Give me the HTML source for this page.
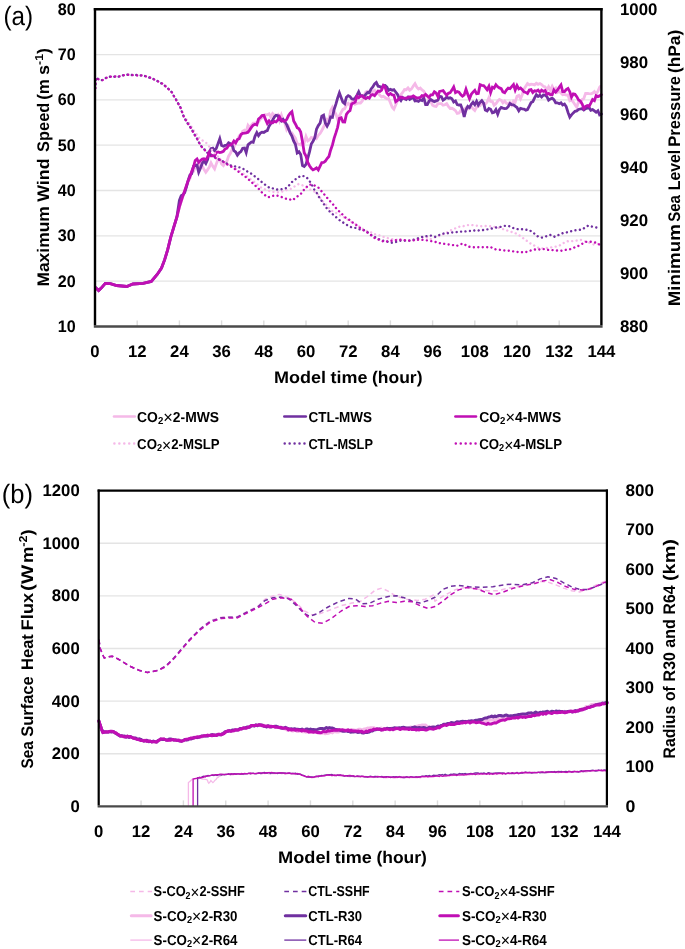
<!DOCTYPE html>
<html><head><meta charset="utf-8"><title>Figure</title>
<style>html,body{margin:0;padding:0;background:#fff;}svg{display:block;will-change:transform;font-family:"Liberation Sans",sans-serif;}</style>
</head><body>
<svg width="685" height="949" viewBox="0 0 685 949" font-family="Liberation Sans, sans-serif" text-rendering="geometricPrecision">
<rect width="685" height="949" fill="#fff"/>
<line x1="95.00" y1="54.60" x2="601.40" y2="54.60" stroke="#e4e4e4" stroke-width="1.3" stroke-linecap="butt"/>
<line x1="95.00" y1="99.90" x2="601.40" y2="99.90" stroke="#e4e4e4" stroke-width="1.3" stroke-linecap="butt"/>
<line x1="95.00" y1="145.20" x2="601.40" y2="145.20" stroke="#e4e4e4" stroke-width="1.3" stroke-linecap="butt"/>
<line x1="95.00" y1="190.50" x2="601.40" y2="190.50" stroke="#e4e4e4" stroke-width="1.3" stroke-linecap="butt"/>
<line x1="95.00" y1="235.80" x2="601.40" y2="235.80" stroke="#e4e4e4" stroke-width="1.3" stroke-linecap="butt"/>
<line x1="95.00" y1="281.10" x2="601.40" y2="281.10" stroke="#e4e4e4" stroke-width="1.3" stroke-linecap="butt"/>
<line x1="95.00" y1="326.40" x2="95.00" y2="320.40" stroke="#dcdcdc" stroke-width="1.4" stroke-linecap="butt"/>
<line x1="137.20" y1="326.40" x2="137.20" y2="320.40" stroke="#dcdcdc" stroke-width="1.4" stroke-linecap="butt"/>
<line x1="179.40" y1="326.40" x2="179.40" y2="320.40" stroke="#dcdcdc" stroke-width="1.4" stroke-linecap="butt"/>
<line x1="221.60" y1="326.40" x2="221.60" y2="320.40" stroke="#dcdcdc" stroke-width="1.4" stroke-linecap="butt"/>
<line x1="263.80" y1="326.40" x2="263.80" y2="320.40" stroke="#dcdcdc" stroke-width="1.4" stroke-linecap="butt"/>
<line x1="306.00" y1="326.40" x2="306.00" y2="320.40" stroke="#dcdcdc" stroke-width="1.4" stroke-linecap="butt"/>
<line x1="348.20" y1="326.40" x2="348.20" y2="320.40" stroke="#dcdcdc" stroke-width="1.4" stroke-linecap="butt"/>
<line x1="390.40" y1="326.40" x2="390.40" y2="320.40" stroke="#dcdcdc" stroke-width="1.4" stroke-linecap="butt"/>
<line x1="432.60" y1="326.40" x2="432.60" y2="320.40" stroke="#dcdcdc" stroke-width="1.4" stroke-linecap="butt"/>
<line x1="474.80" y1="326.40" x2="474.80" y2="320.40" stroke="#dcdcdc" stroke-width="1.4" stroke-linecap="butt"/>
<line x1="517.00" y1="326.40" x2="517.00" y2="320.40" stroke="#dcdcdc" stroke-width="1.4" stroke-linecap="butt"/>
<line x1="559.20" y1="326.40" x2="559.20" y2="320.40" stroke="#dcdcdc" stroke-width="1.4" stroke-linecap="butt"/>
<line x1="601.40" y1="326.40" x2="601.40" y2="320.40" stroke="#dcdcdc" stroke-width="1.4" stroke-linecap="butt"/>
<path d="M95.5,287.5 L98.6,290.6 L101.2,288.1 L105.3,283.4 L110.4,283.6 L116.6,285.5 L126.8,286.5 L132.9,284.0 L143.1,283.4 L151.3,281.4 L157.4,274.2 L161.5,268.1 L164.6,259.9 L167.7,249.7 L170.7,237.4 L173.8,227.2 L176.9,217.0 L179.4,207.3 L181.2,201.6 L182.9,196.5 L184.7,191.4 L186.4,186.3 L188.2,181.4 L189.9,178.6 L191.7,171.8 L193.5,171.3 L195.2,166.9 L197.0,165.1 L198.7,167.1 L200.5,163.9 L202.3,166.0 L204.0,169.4 L205.8,172.2 L207.5,169.9 L209.3,167.2 L211.0,162.8 L212.8,166.3 L214.6,168.9 L216.3,163.9 L218.1,159.2 L219.8,159.1 L221.6,164.0 L223.4,165.7 L225.1,163.1 L226.9,161.2 L228.6,156.1 L230.4,153.4 L232.1,149.5 L233.9,147.4 L235.7,142.4 L237.4,140.3 L239.2,135.9 L240.9,135.8 L242.7,131.3 L244.5,130.2 L246.2,131.6 L248.0,125.3 L249.7,127.6 L251.5,125.2 L253.2,123.2 L255.0,123.2 L256.8,122.3 L258.5,121.9 L260.3,119.1 L262.0,117.6 L263.8,116.4 L265.6,114.7 L267.3,114.8 L269.1,113.8 L270.8,117.0 L272.6,113.6 L274.3,115.2 L276.1,115.8 L277.9,114.7 L279.6,120.5 L281.4,115.1 L283.1,120.1 L284.9,123.3 L286.7,129.5 L288.4,126.8 L290.2,133.1 L291.9,132.9 L293.7,135.9 L295.4,138.2 L297.2,143.4 L299.0,144.4 L300.7,144.8 L302.5,141.8 L304.2,142.9 L306.0,136.4 L307.8,140.9 L309.5,139.8 L311.3,137.5 L313.0,138.3 L314.8,136.7 L316.5,138.4 L318.3,135.3 L320.1,133.5 L321.8,130.5 L323.6,127.0 L325.3,123.6 L327.1,119.1 L328.9,119.6 L330.6,110.7 L332.4,107.4 L334.1,111.2 L335.9,114.1 L337.6,119.4 L339.4,115.8 L341.2,112.3 L342.9,109.4 L344.7,108.6 L346.4,104.9 L348.2,103.3 L350.0,105.2 L351.7,102.8 L353.5,100.1 L355.2,104.1 L357.0,103.4 L358.7,103.0 L360.5,103.0 L362.3,101.0 L364.0,95.6 L365.8,92.1 L367.5,91.2 L369.3,91.7 L371.1,93.3 L372.8,91.3 L374.6,90.2 L376.3,93.4 L378.1,93.1 L379.8,95.3 L381.6,96.9 L383.4,96.3 L385.1,97.5 L386.9,98.8 L388.6,98.5 L390.4,102.8 L392.2,107.2 L393.9,109.1 L395.7,105.0 L397.4,101.0 L399.2,97.2 L400.9,94.5 L402.7,92.4 L404.5,89.5 L406.2,89.8 L408.0,87.9 L409.7,90.2 L411.5,88.9 L413.3,86.0 L415.0,83.6 L416.8,87.2 L418.5,89.1 L420.3,88.1 L422.0,89.9 L423.8,91.2 L425.6,94.9 L427.3,95.4 L429.1,100.6 L430.8,101.3 L432.6,105.2 L434.4,106.2 L436.1,106.5 L437.9,103.7 L439.6,103.6 L441.4,103.7 L443.1,105.2 L444.9,104.8 L446.7,103.7 L448.4,106.3 L450.2,108.5 L451.9,108.3 L453.7,109.3 L455.5,110.6 L457.2,113.4 L459.0,113.0 L460.7,110.5 L462.5,111.8 L464.2,109.4 L466.0,107.7 L467.8,109.0 L469.5,107.2 L471.3,106.4 L473.0,108.8 L474.8,110.5 L476.6,107.2 L478.3,106.1 L480.1,105.6 L481.8,101.8 L483.6,104.2 L485.3,104.2 L487.1,102.1 L488.9,97.8 L490.6,101.4 L492.4,101.5 L494.1,105.2 L495.9,103.7 L497.7,101.1 L499.4,99.5 L501.2,100.3 L502.9,102.9 L504.7,101.1 L506.4,103.4 L508.2,103.9 L510.0,102.4 L511.7,105.1 L513.5,101.1 L515.2,102.2 L517.0,96.2 L518.8,95.4 L520.5,98.9 L522.3,94.5 L524.0,89.2 L525.8,86.2 L527.5,83.5 L529.3,84.9 L531.1,84.1 L532.8,84.3 L534.6,84.9 L536.3,83.2 L538.1,84.3 L539.9,83.5 L541.6,84.6 L543.4,86.4 L545.1,87.0 L546.9,89.9 L548.6,86.8 L550.4,90.4 L552.2,86.4 L553.9,89.5 L555.7,88.1 L557.4,92.4 L559.2,91.4 L561.0,93.0 L562.7,94.8 L564.5,94.3 L566.2,95.1 L568.0,95.0 L569.8,100.7 L571.5,99.9 L573.3,102.1 L575.0,104.8 L576.8,107.3 L578.5,101.5 L580.3,102.6 L582.1,99.5 L583.8,98.5 L585.6,93.4 L587.3,93.5 L589.1,93.7 L590.8,93.8 L592.6,93.2 L594.4,91.6 L596.1,93.8 L597.9,91.3 L599.6,87.3 L600.4,86.3" fill="none" stroke="#f5b9e8" stroke-width="2.8" stroke-linecap="round" stroke-linejoin="miter"/>
<path d="M95.5,287.5 L98.6,290.6 L101.2,288.1 L105.3,283.4 L110.4,283.6 L116.6,285.5 L126.8,286.5 L132.9,284.0 L143.1,283.4 L151.3,281.4 L157.4,274.2 L161.5,268.1 L164.6,259.9 L167.7,249.7 L170.7,237.4 L173.8,227.2 L176.9,217.0 L179.4,200.3 L181.2,195.7 L182.9,194.8 L184.7,192.5 L186.4,187.2 L188.2,180.3 L189.9,175.0 L191.7,173.7 L193.5,166.2 L195.2,165.6 L197.0,165.1 L198.7,172.3 L200.5,168.1 L202.3,163.2 L204.0,161.0 L205.8,163.5 L207.5,159.7 L209.3,152.5 L211.0,148.7 L212.8,148.1 L214.6,150.7 L216.3,148.4 L218.1,143.4 L219.8,138.7 L221.6,145.5 L223.4,146.2 L225.1,145.4 L226.9,145.0 L228.6,142.7 L230.4,143.6 L232.1,145.0 L233.9,150.7 L235.7,152.0 L237.4,155.2 L239.2,152.8 L240.9,151.6 L242.7,148.2 L244.5,148.0 L246.2,152.6 L248.0,144.8 L249.7,143.4 L251.5,142.0 L253.2,142.4 L255.0,136.3 L256.8,132.6 L258.5,135.7 L260.3,133.1 L262.0,132.2 L263.8,132.5 L265.6,131.3 L267.3,130.6 L269.1,126.1 L270.8,123.6 L272.6,120.2 L274.3,117.1 L276.1,115.2 L277.9,115.6 L279.6,119.2 L281.4,121.0 L283.1,119.4 L284.9,121.8 L286.7,124.6 L288.4,128.6 L290.2,132.8 L291.9,136.0 L293.7,141.2 L295.4,144.3 L297.2,153.0 L299.0,151.8 L300.7,154.4 L302.5,165.6 L304.2,166.5 L306.0,164.3 L307.8,158.2 L309.5,151.9 L311.3,144.0 L313.0,141.2 L314.8,137.7 L316.5,129.2 L318.3,125.6 L320.1,123.2 L321.8,116.2 L323.6,115.1 L325.3,123.0 L327.1,126.1 L328.9,122.8 L330.6,116.9 L332.4,117.3 L334.1,109.5 L335.9,104.2 L337.6,98.1 L339.4,92.9 L341.2,97.7 L342.9,102.2 L344.7,103.7 L346.4,97.2 L348.2,95.6 L350.0,96.6 L351.7,98.8 L353.5,99.3 L355.2,98.1 L357.0,95.2 L358.7,91.8 L360.5,95.8 L362.3,95.6 L364.0,96.6 L365.8,94.3 L367.5,92.5 L369.3,92.7 L371.1,88.9 L372.8,86.9 L374.6,83.8 L376.3,82.4 L378.1,86.2 L379.8,86.6 L381.6,87.7 L383.4,85.6 L385.1,85.4 L386.9,87.2 L388.6,90.3 L390.4,89.3 L392.2,90.3 L393.9,89.7 L395.7,92.0 L397.4,94.3 L399.2,98.5 L400.9,100.6 L402.7,97.5 L404.5,98.8 L406.2,99.5 L408.0,97.3 L409.7,99.4 L411.5,98.3 L413.3,97.3 L415.0,100.9 L416.8,100.7 L418.5,101.4 L420.3,100.0 L422.0,100.5 L423.8,97.7 L425.6,104.5 L427.3,104.5 L429.1,101.1 L430.8,99.5 L432.6,100.7 L434.4,101.6 L436.1,100.9 L437.9,100.2 L439.6,96.3 L441.4,96.7 L443.1,100.2 L444.9,99.0 L446.7,97.0 L448.4,98.2 L450.2,97.8 L451.9,98.7 L453.7,102.0 L455.5,100.9 L457.2,104.5 L459.0,105.0 L460.7,105.0 L462.5,109.6 L464.2,116.9 L466.0,109.8 L467.8,106.4 L469.5,107.6 L471.3,104.2 L473.0,102.3 L474.8,104.7 L476.6,101.2 L478.3,105.1 L480.1,102.3 L481.8,100.6 L483.6,103.2 L485.3,110.1 L487.1,110.9 L488.9,108.4 L490.6,109.2 L492.4,112.8 L494.1,112.3 L495.9,109.6 L497.7,114.2 L499.4,109.5 L501.2,107.5 L502.9,108.1 L504.7,108.6 L506.4,108.5 L508.2,106.6 L510.0,103.5 L511.7,104.6 L513.5,104.8 L515.2,106.2 L517.0,107.5 L518.8,110.8 L520.5,108.3 L522.3,108.8 L524.0,109.0 L525.8,110.1 L527.5,109.5 L529.3,106.2 L531.1,102.6 L532.8,101.7 L534.6,97.8 L536.3,94.8 L538.1,96.4 L539.9,95.3 L541.6,97.0 L543.4,95.0 L545.1,95.2 L546.9,96.7 L548.6,100.2 L550.4,98.9 L552.2,98.2 L553.9,99.6 L555.7,102.8 L557.4,102.8 L559.2,103.7 L561.0,102.7 L562.7,105.0 L564.5,104.1 L566.2,106.5 L568.0,112.4 L569.8,117.1 L571.5,114.9 L573.3,112.9 L575.0,111.3 L576.8,110.9 L578.5,109.5 L580.3,109.0 L582.1,108.6 L583.8,110.0 L585.6,108.6 L587.3,108.1 L589.1,107.4 L590.8,110.2 L592.6,109.6 L594.4,110.9 L596.1,112.3 L597.9,110.8 L599.6,114.9 L601.4,114.0" fill="none" stroke="#7030a0" stroke-width="2.8" stroke-linecap="round" stroke-linejoin="miter"/>
<path d="M95.5,287.5 L98.6,290.6 L101.2,288.1 L105.3,283.4 L110.4,283.6 L116.6,285.5 L126.8,286.5 L132.9,284.0 L143.1,283.4 L151.3,281.4 L157.4,274.2 L161.5,268.1 L164.6,259.9 L167.7,249.7 L170.7,237.4 L173.8,227.2 L176.9,217.0 L179.4,206.8 L181.2,201.0 L182.9,195.7 L184.7,190.6 L186.4,185.7 L188.2,180.4 L189.9,176.7 L191.7,171.4 L193.5,166.8 L195.2,160.5 L197.0,158.9 L198.7,162.4 L200.5,160.6 L202.3,159.1 L204.0,158.8 L205.8,159.7 L207.5,157.2 L209.3,152.5 L211.0,155.8 L212.8,155.7 L214.6,156.0 L216.3,152.6 L218.1,152.0 L219.8,152.5 L221.6,152.1 L223.4,151.3 L225.1,149.0 L226.9,148.2 L228.6,145.3 L230.4,145.2 L232.1,143.9 L233.9,141.0 L235.7,142.8 L237.4,139.6 L239.2,138.7 L240.9,134.5 L242.7,133.4 L244.5,133.2 L246.2,132.8 L248.0,132.2 L249.7,129.9 L251.5,127.2 L253.2,125.1 L255.0,124.3 L256.8,125.0 L258.5,119.1 L260.3,117.4 L262.0,115.5 L263.8,115.3 L265.6,119.6 L267.3,123.5 L269.1,120.9 L270.8,122.9 L272.6,122.8 L274.3,121.4 L276.1,122.0 L277.9,120.0 L279.6,116.9 L281.4,120.4 L283.1,121.1 L284.9,121.1 L286.7,119.5 L288.4,115.8 L290.2,113.2 L291.9,111.7 L293.7,120.9 L295.4,124.0 L297.2,127.7 L299.0,128.8 L300.7,132.0 L302.5,141.8 L304.2,152.7 L306.0,156.1 L307.8,162.5 L309.5,165.7 L311.3,168.4 L313.0,169.8 L314.8,169.1 L316.5,167.8 L318.3,169.9 L320.1,166.2 L321.8,162.6 L323.6,162.5 L325.3,161.2 L327.1,158.5 L328.9,156.5 L330.6,150.2 L332.4,145.2 L334.1,138.3 L335.9,132.9 L337.6,127.3 L339.4,118.3 L341.2,117.7 L342.9,122.0 L344.7,122.1 L346.4,114.4 L348.2,111.9 L350.0,110.7 L351.7,104.0 L353.5,103.1 L355.2,102.1 L357.0,96.4 L358.7,97.7 L360.5,96.1 L362.3,96.0 L364.0,97.5 L365.8,98.6 L367.5,97.3 L369.3,98.1 L371.1,95.1 L372.8,94.6 L374.6,95.7 L376.3,93.4 L378.1,91.0 L379.8,91.4 L381.6,90.1 L383.4,85.4 L385.1,87.0 L386.9,93.1 L388.6,95.0 L390.4,93.5 L392.2,94.9 L393.9,95.1 L395.7,101.8 L397.4,100.6 L399.2,98.2 L400.9,97.1 L402.7,97.9 L404.5,98.2 L406.2,98.2 L408.0,97.4 L409.7,96.9 L411.5,96.9 L413.3,95.8 L415.0,97.0 L416.8,98.0 L418.5,97.8 L420.3,97.4 L422.0,95.6 L423.8,96.1 L425.6,94.4 L427.3,96.0 L429.1,97.5 L430.8,94.8 L432.6,94.8 L434.4,91.8 L436.1,92.9 L437.9,96.6 L439.6,91.4 L441.4,91.0 L443.1,90.6 L444.9,93.1 L446.7,95.2 L448.4,93.3 L450.2,92.7 L451.9,90.1 L453.7,86.9 L455.5,92.6 L457.2,91.6 L459.0,92.1 L460.7,94.5 L462.5,96.2 L464.2,95.0 L466.0,89.2 L467.8,94.4 L469.5,98.7 L471.3,94.2 L473.0,92.1 L474.8,90.4 L476.6,93.8 L478.3,93.6 L480.1,84.7 L481.8,85.3 L483.6,85.6 L485.3,87.3 L487.1,89.7 L488.9,86.3 L490.6,92.7 L492.4,87.3 L494.1,88.1 L495.9,84.7 L497.7,86.8 L499.4,87.9 L501.2,88.7 L502.9,92.0 L504.7,92.8 L506.4,90.1 L508.2,88.1 L510.0,88.7 L511.7,86.6 L513.5,84.5 L515.2,90.1 L517.0,85.5 L518.8,88.9 L520.5,88.0 L522.3,89.8 L524.0,91.8 L525.8,92.4 L527.5,93.5 L529.3,90.1 L531.1,89.7 L532.8,92.5 L534.6,90.8 L536.3,91.2 L538.1,90.1 L539.9,92.3 L541.6,90.1 L543.4,91.3 L545.1,90.5 L546.9,94.2 L548.6,93.4 L550.4,94.7 L552.2,94.6 L553.9,90.0 L555.7,92.1 L557.4,90.2 L559.2,87.4 L561.0,85.0 L562.7,91.6 L564.5,91.6 L566.2,89.5 L568.0,88.4 L569.8,91.7 L571.5,97.2 L573.3,93.9 L575.0,94.3 L576.8,96.7 L578.5,99.8 L580.3,101.0 L582.1,103.8 L583.8,108.4 L585.6,106.3 L587.3,105.5 L589.1,106.4 L590.8,103.2 L592.6,99.5 L594.4,100.6 L596.1,95.7 L597.9,96.6 L599.6,95.9 L601.4,94.7" fill="none" stroke="#c00fb4" stroke-width="2.8" stroke-linecap="round" stroke-linejoin="miter"/>
<path d="M95.5,88.0 L95.5,84.7 L95.6,82.0 L96.0,77.6 L99.0,79.5 L102.3,80.2 L104.7,78.6 L107.0,77.5 L109.8,76.8 L112.5,76.2 L115.0,76.7 L117.6,77.0 L122.0,75.5 L126.8,74.7 L129.5,74.5 L132.3,74.6 L135.0,75.0 L138.1,75.1 L141.1,75.7 L144.2,75.8 L147.8,76.7 L151.3,78.0 L154.2,79.6 L157.0,80.8 L160.3,82.7 L163.6,84.3 L165.7,86.0 L167.7,88.3 L169.8,90.3 L171.8,92.3 L173.3,94.9 L174.9,98.0 L176.4,100.1 L177.9,103.1 L180.0,106.4 L181.0,108.5 L182.0,111.5 L183.0,113.5 L184.0,116.0 L186.1,119.0 L187.7,121.0 L189.2,123.4 L190.8,125.7 L192.3,128.0 L193.8,130.6 L195.3,132.3 L196.8,134.6 L198.3,137.0 L200.4,139.0 L203.5,141.1 L206.6,143.1 L208.4,145.4 L210.2,148.0 L212.0,150.0 L213.8,152.2 L215.6,153.9 L217.3,155.8 L219.1,158.2 L220.9,160.0 L223.4,161.8 L226.0,162.6 L228.6,164.5 L231.1,165.8 L233.7,167.6 L236.2,168.9 L238.8,170.1 L241.3,171.8 L243.3,173.6 L245.4,175.2 L247.4,176.4 L249.5,178.4 L251.5,179.9 L253.5,181.3 L255.6,182.9 L257.6,184.7 L259.7,186.3 L261.7,188.1 L264.4,189.1 L267.2,190.3 L269.9,191.2 L272.6,191.8 L275.4,192.2 L278.1,192.2 L280.6,191.9 L283.0,191.3 L285.5,190.5 L287.9,189.6 L290.4,189.1 L293.1,187.2 L295.8,185.8 L298.5,184.0 L303.1,185.5 L305.5,186.9 L307.8,188.4 L310.2,189.6 L313.2,190.9 L316.3,192.7 L317.9,194.5 L319.4,197.1 L320.9,198.9 L322.5,200.9 L324.6,203.3 L326.6,205.2 L328.6,207.7 L330.7,210.1 L333.4,211.8 L336.1,212.9 L338.8,214.2 L341.5,216.2 L344.3,217.4 L347.0,219.3 L349.6,220.7 L352.1,222.4 L354.6,223.5 L357.2,225.0 L359.9,227.0 L362.7,228.7 L365.4,230.5 L368.1,231.3 L370.9,232.3 L373.6,233.6 L376.3,234.9 L379.1,235.3 L381.8,236.6 L384.5,237.1 L387.2,237.9 L389.9,238.7 L392.6,239.2 L395.4,239.6 L398.1,239.7 L400.8,240.0 L403.6,240.4 L406.3,240.7 L408.9,240.7 L411.4,240.0 L413.9,239.9 L416.5,239.7 L419.2,238.7 L422.0,237.7 L424.7,236.6 L427.4,237.7 L430.0,239.4 L432.6,238.2 L435.2,237.2 L437.9,236.6 L440.5,235.5 L443.1,234.3 L445.8,233.2 L448.4,231.7 L451.0,230.2 L454.1,228.7 L457.1,227.8 L460.2,226.3 L463.3,226.2 L466.3,225.3 L469.4,225.0 L472.0,225.0 L474.6,225.6 L477.3,225.8 L479.9,226.3 L482.5,226.1 L485.1,226.0 L487.8,226.0 L490.4,226.3 L493.0,227.0 L495.7,226.9 L498.3,227.6 L501.4,228.7 L504.4,229.5 L507.5,230.7 L510.6,231.5 L513.6,232.9 L516.7,233.6 L519.3,235.4 L522.0,237.2 L524.6,239.4 L527.2,241.1 L529.9,243.1 L532.5,244.7 L535.1,246.0 L537.8,247.6 L540.4,248.6 L543.0,248.3 L545.6,248.1 L548.2,247.8 L550.8,247.5 L553.5,246.9 L556.1,246.6 L558.7,246.0 L561.3,244.5 L564.0,242.7 L566.6,241.5 L569.2,241.0 L571.9,241.2 L574.5,240.7 L577.8,240.5 L581.1,239.9 L584.4,241.3 L587.7,242.0 L591.0,243.5 L594.2,244.7 L597.4,244.1 L600.5,243.4" fill="none" stroke="#f5b9e8" stroke-width="2.4" stroke-linecap="round" stroke-linejoin="round" stroke-dasharray="0.01 4.45" stroke-dashoffset="0.5"/>
<path d="M95.5,88.0 L95.5,84.7 L95.6,82.0 L96.0,77.6 L99.0,79.5 L102.3,80.2 L104.7,78.6 L107.0,77.5 L109.8,76.7 L112.5,76.2 L115.0,76.9 L117.6,77.0 L122.0,75.5 L126.8,74.7 L129.5,74.8 L132.3,75.1 L135.0,75.0 L138.1,75.0 L141.1,75.5 L144.2,75.8 L147.8,77.1 L151.3,78.0 L154.2,79.4 L157.0,80.8 L160.3,82.9 L163.6,84.3 L165.7,86.6 L167.7,88.2 L169.8,90.0 L171.8,92.3 L173.3,95.2 L174.9,97.4 L176.4,100.1 L177.9,103.1 L180.0,106.4 L181.0,109.3 L182.0,112.1 L183.0,114.9 L184.0,117.4 L186.1,120.7 L187.7,123.5 L189.2,125.4 L190.8,127.8 L192.3,130.5 L193.8,132.9 L195.3,136.1 L196.8,138.1 L198.3,141.0 L200.4,145.2 L202.4,147.3 L204.5,149.5 L206.5,152.2 L208.6,153.4 L211.3,154.9 L214.0,157.0 L216.3,157.8 L218.6,159.2 L220.9,160.5 L223.4,161.5 L226.0,162.9 L228.6,164.6 L231.1,165.6 L233.7,165.9 L236.2,166.9 L238.8,167.3 L241.3,167.7 L243.9,169.3 L246.4,170.8 L248.9,172.5 L251.5,173.8 L253.5,175.5 L255.6,176.9 L257.6,178.6 L259.7,180.2 L261.7,182.0 L263.8,183.5 L265.8,185.4 L267.8,186.5 L269.9,188.1 L272.6,188.3 L275.4,189.2 L278.1,189.7 L280.8,189.4 L283.6,188.6 L286.3,188.1 L288.3,186.2 L290.4,183.7 L292.4,181.6 L294.4,179.9 L297.5,178.0 L300.6,175.8 L305.1,176.3 L307.1,178.0 L309.2,180.4 L310.5,182.6 L311.8,184.9 L313.0,187.1 L314.3,189.6 L315.8,191.6 L317.4,193.9 L318.9,196.8 L320.4,198.8 L321.9,201.2 L323.5,203.7 L325.1,205.7 L326.6,208.0 L328.6,210.4 L330.7,212.4 L332.7,214.2 L334.8,216.1 L336.8,217.8 L338.8,219.5 L340.9,221.3 L343.6,222.8 L346.4,224.6 L349.1,226.4 L351.8,227.3 L354.5,227.6 L357.2,228.5 L359.9,229.4 L362.7,229.8 L365.4,230.5 L367.4,232.1 L369.5,233.8 L371.6,235.2 L373.6,236.6 L376.3,237.7 L379.1,239.2 L381.8,240.7 L384.4,240.9 L386.9,241.4 L389.4,242.6 L392.0,242.8 L394.7,242.2 L397.4,241.7 L400.1,240.7 L402.8,240.9 L405.6,240.6 L408.3,240.7 L411.0,240.4 L413.8,239.7 L416.5,238.7 L419.2,238.0 L422.0,237.0 L424.7,236.6 L427.4,235.9 L430.0,235.5 L432.6,235.9 L435.3,236.8 L437.9,235.6 L440.5,234.4 L443.1,233.6 L445.7,233.4 L448.4,233.3 L451.0,232.5 L453.7,232.6 L456.3,232.1 L458.9,231.9 L461.5,231.6 L464.2,231.7 L466.8,231.1 L469.4,231.0 L472.0,231.1 L474.6,230.4 L477.3,230.8 L479.9,230.1 L482.5,230.2 L485.1,229.3 L487.8,229.4 L490.4,228.8 L493.1,228.2 L495.7,227.6 L498.6,227.3 L501.6,226.6 L504.6,225.9 L507.5,225.7 L510.6,226.6 L513.6,228.2 L516.7,228.9 L519.3,229.5 L521.9,229.2 L524.6,229.6 L527.2,229.9 L529.8,230.2 L532.4,232.5 L535.1,233.9 L537.7,236.3 L541.7,237.6 L544.8,236.9 L547.8,235.6 L550.9,234.9 L554.8,236.8 L557.1,235.8 L559.4,234.5 L561.7,233.5 L564.0,232.8 L566.6,232.4 L569.2,231.5 L571.9,231.2 L574.5,230.2 L577.1,230.2 L579.8,229.8 L582.4,229.4 L585.4,227.2 L588.4,225.5 L591.3,226.4 L594.2,227.1 L597.4,227.7 L600.5,227.6" fill="none" stroke="#7030a0" stroke-width="2.4" stroke-linecap="round" stroke-linejoin="round" stroke-dasharray="0.01 4.45" stroke-dashoffset="0.9"/>
<path d="M95.5,88.0 L95.5,85.0 L95.6,82.0 L96.0,77.6 L99.0,79.5 L102.3,80.2 L104.7,78.9 L107.0,77.5 L109.8,77.1 L112.5,76.2 L115.0,76.4 L117.6,77.0 L122.0,75.5 L126.8,74.7 L129.5,74.9 L132.3,75.2 L135.0,75.0 L138.1,75.6 L141.1,75.3 L144.2,75.8 L147.8,77.0 L151.3,78.0 L154.2,79.5 L157.0,80.8 L160.3,82.6 L163.6,84.3 L165.7,86.6 L167.7,88.3 L169.8,90.3 L171.8,92.3 L173.3,95.3 L174.9,97.8 L176.4,100.3 L177.9,103.1 L180.0,106.4 L181.0,109.0 L182.0,111.9 L183.0,114.3 L184.0,117.4 L186.1,120.7 L187.7,123.2 L189.2,125.8 L190.8,128.0 L192.3,130.5 L193.8,133.4 L195.3,136.0 L196.8,138.4 L198.3,141.0 L200.4,145.2 L202.4,147.7 L204.5,149.6 L206.5,152.2 L208.6,153.4 L211.3,154.9 L214.0,157.0 L216.3,158.5 L218.6,159.2 L220.9,160.5 L223.4,161.8 L226.0,163.8 L228.6,165.2 L231.1,166.6 L233.7,168.1 L236.2,170.1 L238.8,171.8 L241.3,173.8 L243.3,175.3 L245.4,176.7 L247.4,178.7 L249.5,180.2 L251.5,182.0 L253.5,184.0 L255.6,185.9 L257.6,187.8 L259.7,189.8 L261.7,192.2 L263.8,194.2 L265.8,195.8 L267.9,197.3 L270.6,196.7 L273.4,195.7 L276.1,195.3 L278.8,196.1 L281.5,197.0 L284.2,198.3 L286.9,198.9 L289.7,199.4 L292.4,200.4 L294.4,198.7 L296.5,197.1 L298.6,195.5 L300.6,194.2 L302.4,192.0 L304.1,189.6 L306.6,187.0 L309.2,184.5 L313.3,184.9 L315.9,186.2 L318.4,187.6 L320.4,189.9 L322.5,192.4 L324.5,194.7 L326.6,197.3 L328.6,199.4 L330.7,201.9 L332.7,204.0 L334.8,206.6 L336.8,209.0 L338.6,210.7 L340.4,212.8 L342.1,214.1 L343.9,216.2 L346.3,218.2 L348.7,219.3 L351.1,221.3 L353.2,222.9 L355.2,224.3 L357.2,225.7 L359.3,227.4 L362.0,229.4 L364.7,230.9 L367.4,232.5 L369.4,233.8 L371.5,235.6 L373.6,237.2 L375.6,238.7 L378.3,239.4 L381.1,240.4 L383.8,241.7 L386.5,241.4 L389.3,241.2 L392.0,240.7 L394.7,240.3 L397.4,240.0 L400.1,239.7 L402.8,240.0 L405.6,240.2 L408.3,240.7 L411.0,240.6 L413.8,240.4 L416.5,239.7 L419.2,239.9 L422.0,239.8 L424.7,240.3 L427.4,240.4 L430.0,240.7 L432.6,241.6 L435.2,241.9 L437.9,242.4 L440.5,243.4 L443.1,243.5 L445.8,244.2 L448.4,244.5 L451.0,244.7 L453.6,245.2 L456.3,246.0 L459.6,244.8 L462.8,243.4 L466.1,245.3 L469.4,246.8 L472.0,247.2 L474.6,247.2 L477.3,247.1 L479.9,247.4 L482.5,247.3 L485.1,247.4 L487.8,247.2 L490.4,246.8 L493.0,248.3 L495.7,249.4 L498.3,249.7 L500.9,249.9 L503.6,250.4 L506.2,250.5 L508.8,250.7 L511.4,251.3 L514.1,251.4 L516.7,252.0 L519.3,251.9 L522.0,252.2 L524.6,252.5 L527.2,251.7 L529.9,250.8 L532.5,249.9 L535.1,249.5 L537.8,249.3 L540.4,249.6 L543.0,249.1 L545.6,249.1 L548.3,249.9 L550.9,249.9 L553.5,250.3 L556.1,250.4 L558.8,250.8 L561.4,250.7 L564.0,250.4 L566.7,249.5 L569.3,249.4 L571.9,248.7 L574.5,247.4 L577.1,246.5 L579.7,245.3 L582.4,243.7 L585.0,242.0 L587.6,241.7 L590.3,241.7 L592.9,242.0 L595.4,242.6 L598.0,244.0 L600.5,244.7" fill="none" stroke="#c00fb4" stroke-width="2.4" stroke-linecap="round" stroke-linejoin="round" stroke-dasharray="0.01 4.45"/>
<line x1="93.80" y1="326.50" x2="602.60" y2="326.50" stroke="#4a4a4a" stroke-width="2.6" stroke-linecap="butt"/>
<line x1="95.00" y1="8.10" x2="95.00" y2="325.20" stroke="#000" stroke-width="2.4" stroke-linecap="butt"/>
<line x1="601.40" y1="8.10" x2="601.40" y2="325.20" stroke="#000" stroke-width="2.4" stroke-linecap="butt"/>
<line x1="93.80" y1="9.30" x2="602.60" y2="9.30" stroke="#000" stroke-width="2.4" stroke-linecap="butt"/>
<text id="t0" transform="translate(3.40,25.30) translate(0.00,0) scale(0.9138,1)" font-size="26.5" font-weight="normal" fill="#000">(a)</text>
<text id="t1" transform="translate(75.60,14.70) translate(-17.90,0) scale(0.9587,1)" font-size="16.8" font-weight="bold" fill="#000">80</text>
<text id="t2" transform="translate(75.60,60.00) translate(-17.90,0) scale(0.9587,1)" font-size="16.8" font-weight="bold" fill="#000">70</text>
<text id="t3" transform="translate(75.60,105.30) translate(-17.90,0) scale(0.9587,1)" font-size="16.8" font-weight="bold" fill="#000">60</text>
<text id="t4" transform="translate(75.60,150.60) translate(-17.90,0) scale(0.9587,1)" font-size="16.8" font-weight="bold" fill="#000">50</text>
<text id="t5" transform="translate(75.60,195.90) translate(-17.90,0) scale(0.9587,1)" font-size="16.8" font-weight="bold" fill="#000">40</text>
<text id="t6" transform="translate(75.60,241.20) translate(-17.90,0) scale(0.9587,1)" font-size="16.8" font-weight="bold" fill="#000">30</text>
<text id="t7" transform="translate(75.60,286.50) translate(-17.90,0) scale(0.9587,1)" font-size="16.8" font-weight="bold" fill="#000">20</text>
<text id="t8" transform="translate(75.60,331.80) translate(-17.90,0) scale(0.9587,1)" font-size="16.8" font-weight="bold" fill="#000">10</text>
<text id="t9" transform="translate(620.00,14.70) translate(0.00,0) scale(1.0015,1)" font-size="16.8" font-weight="bold" fill="#000">1000</text>
<text id="t10" transform="translate(620.00,67.55) translate(0.00,0) scale(1.0036,1)" font-size="16.8" font-weight="bold" fill="#000">980</text>
<text id="t11" transform="translate(620.00,120.40) translate(0.00,0) scale(1.0036,1)" font-size="16.8" font-weight="bold" fill="#000">960</text>
<text id="t12" transform="translate(620.00,173.25) translate(0.00,0) scale(1.0036,1)" font-size="16.8" font-weight="bold" fill="#000">940</text>
<text id="t13" transform="translate(620.00,226.10) translate(0.00,0) scale(1.0036,1)" font-size="16.8" font-weight="bold" fill="#000">920</text>
<text id="t14" transform="translate(620.00,278.95) translate(0.00,0) scale(1.0036,1)" font-size="16.8" font-weight="bold" fill="#000">900</text>
<text id="t15" transform="translate(620.00,331.80) translate(0.00,0) scale(1.0036,1)" font-size="16.8" font-weight="bold" fill="#000">880</text>
<text id="t16" transform="translate(95.00,356.90) translate(-4.65,0) scale(0.9953,1)" font-size="16.8" font-weight="bold" fill="#000">0</text>
<text id="t17" transform="translate(137.20,356.90) translate(-9.30,0) scale(0.9962,1)" font-size="16.8" font-weight="bold" fill="#000">12</text>
<text id="t18" transform="translate(179.40,356.90) translate(-9.30,0) scale(0.9962,1)" font-size="16.8" font-weight="bold" fill="#000">24</text>
<text id="t19" transform="translate(221.60,356.90) translate(-9.30,0) scale(0.9962,1)" font-size="16.8" font-weight="bold" fill="#000">36</text>
<text id="t20" transform="translate(263.80,356.90) translate(-9.30,0) scale(0.9962,1)" font-size="16.8" font-weight="bold" fill="#000">48</text>
<text id="t21" transform="translate(306.00,356.90) translate(-9.30,0) scale(0.9962,1)" font-size="16.8" font-weight="bold" fill="#000">60</text>
<text id="t22" transform="translate(348.20,356.90) translate(-9.30,0) scale(0.9962,1)" font-size="16.8" font-weight="bold" fill="#000">72</text>
<text id="t23" transform="translate(390.40,356.90) translate(-9.30,0) scale(0.9962,1)" font-size="16.8" font-weight="bold" fill="#000">84</text>
<text id="t24" transform="translate(432.60,356.90) translate(-9.30,0) scale(0.9962,1)" font-size="16.8" font-weight="bold" fill="#000">96</text>
<text id="t25" transform="translate(474.80,356.90) translate(-13.95,0) scale(0.9964,1)" font-size="16.8" font-weight="bold" fill="#000">108</text>
<text id="t26" transform="translate(517.00,356.90) translate(-13.95,0) scale(0.9964,1)" font-size="16.8" font-weight="bold" fill="#000">120</text>
<text id="t27" transform="translate(559.20,356.90) translate(-13.95,0) scale(0.9964,1)" font-size="16.8" font-weight="bold" fill="#000">132</text>
<text id="t28" transform="translate(601.40,356.90) translate(-13.95,0) scale(0.9964,1)" font-size="16.8" font-weight="bold" fill="#000">144</text>
<text id="t29" transform="translate(273.90,383.40) translate(0.00,0) scale(1.0725,1)" font-size="16.8" font-weight="bold" fill="#000">Model</text>
<text id="t30" transform="translate(330.50,383.40) translate(0.00,0) scale(1.0691,1)" font-size="16.8" font-weight="bold" fill="#000">time</text>
<text id="t31" transform="translate(372.00,383.40) translate(0.00,0) scale(1.0419,1)" font-size="16.8" font-weight="bold" fill="#000">(hour)</text>
<text id="t32" transform="translate(49.30,286.60) rotate(-90) translate(0.00,0) scale(1.0387,1)" font-size="16.8" font-weight="bold" fill="#000">Maximum</text>
<text id="t33" transform="translate(49.30,201.80) rotate(-90) translate(0.00,0) scale(1.0597,1)" font-size="16.8" font-weight="bold" fill="#000">Wind</text>
<text id="t34" transform="translate(49.30,151.90) rotate(-90) translate(0.00,0) scale(0.9767,1)" font-size="16.8" font-weight="bold" fill="#000">Speed</text>
<text id="t35" transform="translate(49.30,99.80) rotate(-90) translate(0.00,0) scale(1.0090,1)" font-size="16.8" font-weight="bold" fill="#000">(m</text>
<text id="t36" transform="translate(49.30,74.90) rotate(-90) translate(0.00,0) scale(1.0726,1)" font-size="16.8" font-weight="bold" fill="#000">s<tspan font-size="11.5" dy="-6">-1</tspan><tspan dy="6">)</tspan></text>
<text id="t37" transform="translate(679.60,306.30) rotate(-90) translate(0.00,0) scale(1.1146,1)" font-size="16.8" font-weight="bold" fill="#000">Minimum</text>
<text id="t38" transform="translate(679.60,221.80) rotate(-90) translate(0.00,0) scale(0.8975,1)" font-size="16.8" font-weight="bold" fill="#000">Sea</text>
<text id="t39" transform="translate(679.60,190.20) rotate(-90) translate(0.00,0) scale(0.9389,1)" font-size="16.8" font-weight="bold" fill="#000">Level</text>
<text id="t40" transform="translate(679.60,146.70) rotate(-90) translate(0.00,0) scale(0.9813,1)" font-size="16.8" font-weight="bold" fill="#000">Pressure</text>
<text id="t41" transform="translate(679.60,72.90) rotate(-90) translate(0.00,0) scale(1.0273,1)" font-size="16.8" font-weight="bold" fill="#000">(hPa)</text>
<line x1="114.00" y1="416.50" x2="134.80" y2="416.50" stroke="#f5b9e8" stroke-width="2.6" stroke-linecap="round"/>
<line x1="284.30" y1="416.50" x2="305.80" y2="416.50" stroke="#7030a0" stroke-width="2.6" stroke-linecap="round"/>
<line x1="455.40" y1="416.50" x2="476.00" y2="416.50" stroke="#c00fb4" stroke-width="2.6" stroke-linecap="round"/>
<line x1="114.40" y1="443.40" x2="135.00" y2="443.40" stroke="#f5b9e8" stroke-width="2.5" stroke-linecap="round" stroke-dasharray="0.01 4.93"/>
<line x1="284.70" y1="443.40" x2="305.00" y2="443.40" stroke="#7030a0" stroke-width="2.5" stroke-linecap="round" stroke-dasharray="0.01 4.93"/>
<line x1="455.80" y1="443.40" x2="476.00" y2="443.40" stroke="#c00fb4" stroke-width="2.5" stroke-linecap="round" stroke-dasharray="0.01 4.93"/>
<text id="t42" transform="translate(137.10,421.60) translate(0.00,0) scale(0.9640,1)" font-size="14.4" font-weight="bold" fill="#000">CO<tspan font-size="10" dy="2.2">2</tspan><tspan dy="-0.5" font-weight="normal" font-size="17">×</tspan><tspan dy="-1.7">2-MWS</tspan></text>
<text id="t43" transform="translate(137.10,448.80) translate(0.00,0) scale(0.9191,1)" font-size="14.4" font-weight="bold" fill="#000">CO<tspan font-size="10" dy="2.2">2</tspan><tspan dy="-0.5" font-weight="normal" font-size="17">×</tspan><tspan dy="-1.7">2-MSLP</tspan></text>
<text id="t44" transform="translate(308.40,421.60) translate(0.00,0) scale(0.9376,1)" font-size="14.4" font-weight="bold" fill="#000">CTL-MWS</text>
<text id="t45" transform="translate(308.40,448.80) translate(0.00,0) scale(0.8866,1)" font-size="14.4" font-weight="bold" fill="#000">CTL-MSLP</text>
<text id="t46" transform="translate(479.20,421.60) translate(0.00,0) scale(0.9640,1)" font-size="14.4" font-weight="bold" fill="#000">CO<tspan font-size="10" dy="2.2">2</tspan><tspan dy="-0.5" font-weight="normal" font-size="17">×</tspan><tspan dy="-1.7">4-MWS</tspan></text>
<text id="t47" transform="translate(479.20,448.80) translate(0.00,0) scale(0.9213,1)" font-size="14.4" font-weight="bold" fill="#000">CO<tspan font-size="10" dy="2.2">2</tspan><tspan dy="-0.5" font-weight="normal" font-size="17">×</tspan><tspan dy="-1.7">4-MSLP</tspan></text>
<line x1="98.70" y1="543.23" x2="606.90" y2="543.23" stroke="#e4e4e4" stroke-width="1.3" stroke-linecap="butt"/>
<line x1="98.70" y1="595.87" x2="606.90" y2="595.87" stroke="#e4e4e4" stroke-width="1.3" stroke-linecap="butt"/>
<line x1="98.70" y1="648.50" x2="606.90" y2="648.50" stroke="#e4e4e4" stroke-width="1.3" stroke-linecap="butt"/>
<line x1="98.70" y1="701.13" x2="606.90" y2="701.13" stroke="#e4e4e4" stroke-width="1.3" stroke-linecap="butt"/>
<line x1="98.70" y1="753.77" x2="606.90" y2="753.77" stroke="#e4e4e4" stroke-width="1.3" stroke-linecap="butt"/>
<line x1="98.70" y1="806.40" x2="98.70" y2="800.40" stroke="#dcdcdc" stroke-width="1.4" stroke-linecap="butt"/>
<line x1="141.05" y1="806.40" x2="141.05" y2="800.40" stroke="#dcdcdc" stroke-width="1.4" stroke-linecap="butt"/>
<line x1="183.40" y1="806.40" x2="183.40" y2="800.40" stroke="#dcdcdc" stroke-width="1.4" stroke-linecap="butt"/>
<line x1="225.75" y1="806.40" x2="225.75" y2="800.40" stroke="#dcdcdc" stroke-width="1.4" stroke-linecap="butt"/>
<line x1="268.10" y1="806.40" x2="268.10" y2="800.40" stroke="#dcdcdc" stroke-width="1.4" stroke-linecap="butt"/>
<line x1="310.45" y1="806.40" x2="310.45" y2="800.40" stroke="#dcdcdc" stroke-width="1.4" stroke-linecap="butt"/>
<line x1="352.80" y1="806.40" x2="352.80" y2="800.40" stroke="#dcdcdc" stroke-width="1.4" stroke-linecap="butt"/>
<line x1="395.15" y1="806.40" x2="395.15" y2="800.40" stroke="#dcdcdc" stroke-width="1.4" stroke-linecap="butt"/>
<line x1="437.50" y1="806.40" x2="437.50" y2="800.40" stroke="#dcdcdc" stroke-width="1.4" stroke-linecap="butt"/>
<line x1="479.85" y1="806.40" x2="479.85" y2="800.40" stroke="#dcdcdc" stroke-width="1.4" stroke-linecap="butt"/>
<line x1="522.20" y1="806.40" x2="522.20" y2="800.40" stroke="#dcdcdc" stroke-width="1.4" stroke-linecap="butt"/>
<line x1="564.55" y1="806.40" x2="564.55" y2="800.40" stroke="#dcdcdc" stroke-width="1.4" stroke-linecap="butt"/>
<line x1="606.90" y1="806.40" x2="606.90" y2="800.40" stroke="#dcdcdc" stroke-width="1.4" stroke-linecap="butt"/>
<path d="M98.9,639.6 L100.3,648.8 L104.2,658.0 L108.0,657.0 L112.1,656.2 L118.6,659.3 L129.2,665.9 L139.7,670.6 L147.5,672.5 L158.1,670.4 L165.9,665.9 L173.8,658.0 L181.7,648.8 L189.6,639.6 L200.1,628.5 L210.6,620.6 L221.1,617.2 L229.0,616.7 L236.9,616.7 L247.4,611.4 L257.9,606.2 L265.0,599.2 L272.9,596.0 L279.5,594.4 L288.6,597.8 L296.5,603.1 L304.4,611.0 L312.3,614.9 L320.2,613.6 L330.7,609.7 L341.2,605.7 L351.7,603.1 L359.6,601.8 L367.5,596.5 L375.4,590.0 L381.9,588.1 L388.5,591.3 L396.4,596.5 L406.9,599.2 L417.4,600.5 L425.3,599.2 L433.2,595.2 L435.0,601.2 L445.5,594.7 L456.0,589.4 L466.5,587.3 L477.0,588.9 L487.5,590.7 L498.1,590.7 L508.6,588.1 L519.1,586.3 L529.6,584.2 L540.1,581.5 L548.0,582.1 L555.9,584.9 L563.7,588.1 L571.6,590.7 L579.5,592.0 L587.4,589.4 L595.3,585.5 L607.0,580.2" fill="none" stroke="#f5b9e8" stroke-width="1.5" stroke-linecap="butt" stroke-linejoin="round" stroke-dasharray="4.7 3.3"/>
<path d="M98.9,639.6 L100.3,648.8 L104.2,658.0 L108.0,657.0 L112.1,656.2 L118.6,659.3 L129.2,665.9 L139.7,670.6 L147.5,672.5 L158.1,670.4 L165.9,665.9 L173.8,658.0 L181.7,648.8 L189.6,639.6 L200.1,629.1 L210.6,621.2 L221.1,617.8 L229.0,617.3 L236.9,617.3 L247.4,612.0 L257.9,606.8 L265.0,600.5 L272.9,597.8 L280.8,597.1 L288.6,598.6 L296.5,605.7 L304.4,613.6 L309.7,616.2 L317.5,613.6 L328.1,607.0 L338.6,601.8 L349.1,598.4 L355.6,599.2 L362.2,603.9 L370.1,603.1 L378.0,599.2 L388.5,596.5 L396.4,595.7 L404.3,597.8 L412.1,601.3 L420.0,603.1 L427.9,600.5 L435.0,597.3 L442.9,589.4 L450.8,586.3 L458.6,585.5 L469.2,586.8 L479.7,587.3 L492.8,586.8 L503.3,584.9 L511.2,584.2 L521.7,584.9 L532.2,582.8 L540.1,578.9 L548.0,576.8 L555.9,578.4 L563.7,582.8 L571.6,586.8 L579.5,589.4 L587.4,589.4 L595.3,586.8 L607.0,582.1" fill="none" stroke="#7030a0" stroke-width="1.5" stroke-linecap="butt" stroke-linejoin="round" stroke-dasharray="4.7 3.3"/>
<path d="M98.9,639.6 L100.3,648.8 L104.2,658.0 L108.0,657.0 L112.1,656.2 L118.6,659.3 L129.2,665.9 L139.7,670.6 L147.5,672.5 L158.1,670.4 L165.9,666.7 L173.8,658.8 L181.7,649.6 L189.6,640.4 L200.1,629.9 L210.6,622.0 L221.1,618.6 L229.0,618.1 L236.9,618.1 L247.4,612.8 L257.9,607.6 L265.0,603.9 L272.9,599.2 L280.8,597.8 L291.3,599.2 L299.2,607.0 L307.0,616.2 L314.9,622.3 L322.8,623.3 L330.7,618.9 L341.2,611.0 L349.1,606.5 L357.0,605.7 L364.8,606.5 L372.7,605.7 L380.6,603.1 L388.5,601.3 L396.4,602.6 L404.3,601.3 L412.1,601.8 L420.0,605.7 L427.9,608.4 L435.0,606.5 L442.9,601.2 L450.8,594.7 L458.6,589.9 L466.5,587.6 L477.0,588.9 L484.9,592.0 L494.1,594.7 L503.3,592.0 L513.8,588.1 L524.3,585.5 L534.8,583.6 L542.7,581.0 L550.6,579.7 L558.5,582.8 L566.4,586.8 L574.3,589.4 L584.8,590.2 L592.6,588.1 L600.5,584.2 L607.1,581.5" fill="none" stroke="#c00fb4" stroke-width="1.5" stroke-linecap="butt" stroke-linejoin="round" stroke-dasharray="4.7 3.3"/>
<path d="M98.9,721.0 L99.4,722.5 L99.8,723.9 L100.3,725.3 L100.8,726.8 L101.3,728.3 L101.8,730.3 L102.4,731.1 L102.9,732.6 L104.6,732.4 L106.4,732.3 L108.1,732.0 L109.9,731.4 L111.6,731.7 L113.4,731.5 L114.7,732.6 L116.0,733.7 L117.4,733.6 L118.7,734.8 L120.0,736.0 L121.5,735.6 L123.0,736.8 L124.4,736.8 L125.9,736.0 L127.4,737.5 L128.9,737.6 L130.3,737.4 L131.8,737.3 L133.3,737.9 L134.8,737.7 L136.3,737.9 L137.8,739.1 L139.3,738.9 L140.8,739.5 L142.3,740.4 L143.9,740.2 L145.5,740.1 L147.0,740.8 L148.6,741.0 L150.2,741.2 L151.8,741.9 L153.4,741.6 L155.1,742.0 L156.7,742.0 L158.0,741.0 L159.4,740.3 L160.7,739.1 L162.4,739.3 L164.2,739.3 L165.9,739.9 L167.6,740.5 L169.2,740.3 L170.8,740.0 L172.5,739.4 L174.0,740.0 L175.6,739.7 L177.1,739.9 L178.6,740.3 L180.2,740.3 L181.7,741.2 L183.3,741.1 L184.9,740.0 L186.4,740.1 L188.0,739.0 L189.6,738.6 L191.1,739.0 L192.6,738.6 L194.1,737.1 L195.6,737.2 L197.1,737.9 L198.6,737.0 L200.1,736.8 L201.6,737.2 L203.1,736.2 L204.6,735.5 L206.1,736.1 L207.6,736.0 L209.1,735.1 L210.6,735.2 L212.1,734.6 L213.6,734.8 L215.1,735.6 L216.6,735.3 L218.1,734.3 L219.6,734.4 L221.1,734.7 L222.4,733.3 L223.8,732.5 L225.1,732.7 L226.4,731.5 L227.9,730.8 L229.4,731.1 L230.9,730.7 L232.4,730.2 L233.9,730.7 L235.4,729.6 L236.9,729.9 L238.5,729.7 L240.1,728.6 L241.6,728.7 L243.2,728.1 L244.8,728.1 L246.4,727.3 L248.0,727.7 L249.5,727.0 L251.1,725.7 L252.7,725.5 L254.3,725.9 L255.8,724.9 L257.4,725.0 L258.9,725.5 L260.5,724.9 L262.0,725.5 L263.5,725.1 L265.0,726.0 L266.5,726.9 L267.9,725.9 L269.4,726.2 L270.8,727.0 L272.3,726.6 L273.7,726.7 L275.2,726.6 L276.6,726.8 L278.1,727.5 L279.6,727.9 L281.0,727.8 L282.5,728.6 L284.0,728.7 L285.4,729.1 L286.9,730.1 L288.4,729.8 L289.8,730.3 L291.3,730.5 L292.8,731.1 L294.2,730.3 L295.7,730.3 L297.1,731.5 L298.6,731.5 L300.0,730.8 L301.5,730.8 L302.9,731.7 L304.4,731.5 L305.9,732.3 L307.3,731.4 L308.8,732.6 L310.2,732.6 L311.7,732.4 L313.1,732.3 L314.6,732.0 L316.0,732.0 L317.5,732.8 L319.0,733.5 L320.5,732.6 L322.0,733.3 L323.6,732.8 L325.1,733.7 L326.6,733.4 L328.1,733.4 L329.5,732.8 L331.0,732.4 L332.4,732.9 L333.8,731.7 L335.2,731.7 L336.7,731.9 L338.1,732.0 L339.5,731.5 L340.9,730.7 L342.4,731.3 L343.8,730.5 L345.3,730.0 L346.7,729.7 L348.2,730.0 L349.7,730.2 L351.1,729.6 L352.6,729.7 L354.1,729.9 L355.5,730.2 L357.0,730.0 L358.5,729.2 L360.0,729.3 L361.5,729.7 L363.0,729.6 L364.5,728.9 L366.0,728.6 L367.5,728.1 L369.1,728.3 L370.7,727.8 L372.2,727.7 L373.8,727.7 L375.4,728.5 L376.9,729.1 L378.3,728.8 L379.8,729.2 L381.2,728.0 L382.7,728.9 L384.1,728.7 L385.6,729.1 L387.0,728.5 L388.5,728.8 L390.0,729.4 L391.4,728.1 L392.9,728.7 L394.3,728.9 L395.8,729.1 L397.2,728.8 L398.7,728.7 L400.1,728.8 L401.6,728.3 L403.1,728.7 L404.5,727.7 L406.0,728.0 L407.5,728.1 L408.9,727.8 L410.4,727.0 L411.9,727.3 L413.3,727.2 L414.8,726.5 L416.4,726.3 L417.9,726.0 L419.5,725.4 L421.0,725.3 L422.6,724.9 L424.0,725.3 L425.4,724.9 L426.7,726.0 L428.1,726.7 L429.5,726.9 L430.9,727.0 L432.2,726.8 L433.6,727.5 L435.0,727.5 L436.5,727.2 L437.9,726.6 L439.4,726.8 L440.8,725.4 L442.3,725.9 L443.7,724.5 L445.2,724.9 L446.6,724.4 L448.1,724.0 L449.6,723.4 L451.0,723.8 L452.5,723.3 L454.0,723.3 L455.4,723.5 L456.9,722.3 L458.4,721.8 L459.8,721.9 L461.3,722.0 L462.8,722.1 L464.2,721.4 L465.7,721.2 L467.1,722.1 L468.6,721.7 L470.0,721.3 L471.5,721.8 L472.9,720.9 L474.4,721.0 L475.9,721.2 L477.3,720.5 L478.8,720.8 L480.2,721.3 L481.7,721.4 L483.1,721.3 L484.6,720.6 L486.0,720.8 L487.5,720.7 L489.3,720.2 L491.0,719.7 L492.8,720.0 L494.3,719.6 L495.8,719.8 L497.3,719.4 L498.8,718.9 L500.3,718.8 L501.8,717.5 L503.3,717.5 L504.8,716.9 L506.3,717.1 L507.8,716.8 L509.3,716.5 L510.8,716.7 L512.3,716.8 L513.8,716.5 L515.3,716.3 L516.7,715.9 L518.2,716.5 L519.7,716.5 L521.1,715.6 L522.6,714.9 L524.1,714.7 L525.5,715.7 L527.0,715.0 L528.5,714.2 L529.9,714.9 L531.4,714.5 L532.8,713.9 L534.3,714.4 L535.7,713.1 L537.2,713.1 L538.6,713.3 L540.1,713.2 L541.6,712.4 L543.0,713.4 L544.5,712.4 L545.9,712.2 L547.4,711.9 L548.8,712.6 L550.3,712.2 L551.7,712.3 L553.2,712.0 L554.7,712.2 L556.1,712.4 L557.6,712.6 L559.1,712.3 L560.5,711.6 L562.0,712.0 L563.5,711.6 L564.9,711.3 L566.4,712.0 L567.9,711.7 L569.4,711.9 L570.9,710.9 L572.4,710.8 L573.9,710.7 L575.4,711.0 L576.9,710.5 L578.2,710.0 L579.5,709.7 L580.8,709.4 L582.1,708.4 L583.5,708.4 L584.8,708.1 L586.1,706.4 L587.4,706.5 L588.7,706.6 L590.0,705.8 L591.3,704.4 L592.6,704.4 L594.1,704.2 L595.5,704.3 L597.0,704.5 L598.4,703.6 L599.9,703.7 L601.3,704.0 L602.8,703.7 L604.2,703.7 L605.6,702.9 L607.1,702.8" fill="none" stroke="#f5b9e8" stroke-width="3.0" stroke-linecap="round" stroke-linejoin="round"/>
<path d="M98.9,721.0 L99.4,722.5 L99.8,723.9 L100.3,725.3 L100.8,726.8 L101.3,728.5 L101.8,729.9 L102.4,730.6 L102.9,732.6 L104.6,731.7 L106.4,732.0 L108.1,732.0 L109.9,731.5 L111.6,732.1 L113.4,731.5 L114.7,732.7 L116.0,733.4 L117.4,734.3 L118.7,735.3 L120.0,736.0 L121.5,735.7 L123.0,736.2 L124.4,736.0 L125.9,737.2 L127.4,736.2 L128.9,737.4 L130.3,736.5 L131.8,737.3 L133.3,738.0 L134.8,738.0 L136.3,738.5 L137.8,739.6 L139.3,738.8 L140.8,739.3 L142.3,740.4 L143.9,741.1 L145.5,740.7 L147.0,740.3 L148.6,741.7 L150.2,741.2 L151.8,742.0 L153.4,741.1 L155.1,741.7 L156.7,742.0 L158.0,740.5 L159.4,739.8 L160.7,739.1 L162.4,739.5 L164.2,739.2 L165.9,739.9 L167.6,740.1 L169.2,739.0 L170.8,739.1 L172.5,739.4 L174.0,740.1 L175.6,739.9 L177.1,740.2 L178.6,740.7 L180.2,740.9 L181.7,741.2 L183.3,740.5 L184.9,739.5 L186.4,740.0 L188.0,739.8 L189.6,738.6 L191.1,739.0 L192.6,738.3 L194.1,737.6 L195.6,737.4 L197.1,737.6 L198.6,737.3 L200.1,736.8 L201.6,736.0 L203.1,736.0 L204.6,735.9 L206.1,735.9 L207.6,736.1 L209.1,735.4 L210.6,735.2 L212.1,734.5 L213.6,735.5 L215.1,734.9 L216.6,734.9 L218.1,734.5 L219.6,734.7 L221.1,734.7 L222.4,733.7 L223.8,733.5 L225.1,731.7 L226.4,731.5 L227.9,731.3 L229.4,730.6 L230.9,731.1 L232.4,729.9 L233.9,730.0 L235.4,729.9 L236.9,729.9 L238.5,729.7 L240.1,728.6 L241.6,728.8 L243.2,728.1 L244.8,728.1 L246.4,727.3 L248.0,727.0 L249.5,727.2 L251.1,726.0 L252.7,725.5 L254.3,726.0 L255.8,724.8 L257.4,725.7 L258.9,724.8 L260.5,724.9 L262.0,724.9 L263.5,726.2 L265.0,726.3 L266.5,727.0 L267.9,725.8 L269.4,726.2 L270.8,727.0 L272.3,726.5 L273.7,726.4 L275.2,726.2 L276.6,726.3 L278.1,727.0 L279.6,727.4 L281.0,728.1 L282.5,728.3 L284.0,727.8 L285.4,727.3 L286.9,728.0 L288.4,728.8 L289.8,729.1 L291.3,728.8 L292.9,729.1 L294.5,728.7 L296.0,729.2 L297.6,729.2 L299.2,729.4 L300.6,729.6 L302.0,729.1 L303.4,730.0 L304.8,730.0 L306.2,728.9 L307.6,729.1 L309.1,729.9 L310.5,729.1 L311.9,730.0 L313.3,729.4 L314.7,729.7 L316.1,729.7 L317.5,729.4 L319.0,728.8 L320.5,728.6 L322.0,728.4 L323.4,728.8 L324.9,728.5 L326.4,727.5 L327.9,728.4 L329.4,727.6 L330.9,727.9 L332.5,728.0 L334.0,728.7 L335.5,729.8 L337.1,729.6 L338.6,729.9 L340.1,730.3 L341.6,730.9 L343.1,731.2 L344.6,731.2 L346.1,730.9 L347.6,731.4 L349.1,731.5 L350.5,732.2 L352.0,732.1 L353.4,731.9 L354.8,731.7 L356.2,731.8 L357.7,732.4 L359.1,732.3 L360.5,731.6 L361.9,732.7 L363.4,733.1 L364.8,732.6 L366.3,732.6 L367.8,732.4 L369.3,732.0 L370.9,731.0 L372.4,731.0 L373.9,730.0 L375.4,729.8 L376.9,729.1 L378.3,729.3 L379.8,729.1 L381.2,729.9 L382.7,729.4 L384.1,729.1 L385.6,729.0 L387.0,728.2 L388.5,728.6 L390.1,728.5 L391.7,728.7 L393.2,728.2 L394.8,727.8 L396.4,728.1 L397.8,727.9 L399.3,727.8 L400.7,728.2 L402.1,727.4 L403.5,727.3 L405.0,727.6 L406.4,728.1 L407.8,728.1 L409.2,727.9 L410.7,728.3 L412.1,727.6 L413.5,727.5 L415.0,727.0 L416.4,727.7 L417.8,727.7 L419.3,727.4 L420.7,728.1 L422.2,727.7 L423.6,727.6 L425.0,727.8 L426.5,728.7 L427.9,728.1 L429.3,727.3 L430.7,727.6 L432.2,727.3 L433.6,727.0 L435.0,727.3 L436.5,726.8 L437.9,726.0 L439.4,726.6 L440.8,725.6 L442.3,725.4 L443.7,724.2 L445.2,724.2 L446.6,724.0 L448.1,723.4 L449.6,723.7 L451.0,722.6 L452.5,722.7 L454.0,723.1 L455.4,722.8 L456.9,721.8 L458.4,722.0 L459.8,722.1 L461.3,721.5 L462.8,721.3 L464.2,721.6 L465.7,721.5 L467.1,721.8 L468.6,721.1 L470.0,721.2 L471.5,720.7 L472.9,721.1 L474.4,720.7 L476.0,720.2 L477.6,720.2 L479.1,719.7 L480.7,719.4 L482.3,719.4 L483.9,718.4 L485.5,718.0 L487.0,717.9 L488.6,717.0 L490.2,716.8 L491.7,716.0 L493.2,716.9 L494.7,715.9 L496.2,716.7 L497.7,716.0 L499.2,715.5 L500.7,715.5 L502.2,716.0 L503.6,716.1 L505.1,715.2 L506.5,715.0 L508.0,715.7 L509.4,716.0 L510.9,715.7 L512.3,715.9 L513.8,715.5 L515.3,715.2 L516.7,715.2 L518.2,714.5 L519.7,714.5 L521.1,714.3 L522.6,714.1 L524.1,713.9 L525.5,714.2 L527.0,713.6 L528.5,713.0 L529.9,712.9 L531.4,712.8 L532.8,713.7 L534.3,712.9 L535.7,712.1 L537.2,713.1 L538.6,713.0 L540.1,712.3 L541.6,712.7 L543.0,711.9 L544.5,712.4 L545.9,711.7 L547.4,711.3 L548.8,712.3 L550.3,712.1 L551.7,711.2 L553.2,711.5 L554.7,712.1 L556.1,711.0 L557.6,711.4 L559.1,711.1 L560.5,711.4 L562.0,711.4 L563.5,712.3 L564.9,711.7 L566.4,712.1 L567.9,711.5 L569.4,711.3 L570.9,711.4 L572.4,712.0 L573.9,711.5 L575.4,710.6 L576.9,711.0 L578.4,710.8 L579.9,710.1 L581.4,709.5 L582.9,709.1 L584.4,708.8 L585.9,708.5 L587.4,707.6 L588.9,707.2 L590.4,706.9 L591.9,706.2 L593.4,706.0 L594.9,705.2 L596.4,704.7 L597.9,704.4 L599.4,704.1 L601.0,704.0 L602.5,703.0 L604.0,703.6 L605.6,702.6 L607.1,702.3" fill="none" stroke="#7030a0" stroke-width="3.0" stroke-linecap="round" stroke-linejoin="round"/>
<path d="M98.9,721.0 L99.4,722.5 L99.8,723.9 L100.3,725.0 L100.8,726.8 L101.3,728.5 L101.8,730.0 L102.4,731.6 L102.9,732.6 L104.6,732.0 L106.4,731.8 L108.1,732.0 L109.9,731.3 L111.6,731.3 L113.4,731.5 L114.7,732.7 L116.0,732.8 L117.4,734.2 L118.7,734.7 L120.0,736.0 L121.5,735.9 L123.0,736.2 L124.4,737.0 L125.9,736.8 L127.4,736.1 L128.9,736.7 L130.3,736.6 L131.8,737.3 L133.3,738.3 L134.8,738.6 L136.3,739.1 L137.8,739.5 L139.3,739.9 L140.8,740.6 L142.3,740.4 L143.9,741.0 L145.5,740.4 L147.0,741.4 L148.6,741.0 L150.2,741.2 L151.8,741.8 L153.4,741.7 L155.1,741.7 L156.7,742.0 L158.0,740.8 L159.4,740.0 L160.7,739.1 L162.4,739.1 L164.2,739.1 L165.9,739.9 L167.6,740.2 L169.2,740.1 L170.8,740.2 L172.5,739.4 L174.0,740.0 L175.6,740.1 L177.1,740.6 L178.6,740.1 L180.2,741.1 L181.7,741.2 L183.3,740.6 L184.9,739.7 L186.4,739.2 L188.0,739.2 L189.6,738.6 L191.1,738.0 L192.6,738.0 L194.1,738.0 L195.6,737.4 L197.1,736.8 L198.6,737.0 L200.1,736.8 L201.6,736.2 L203.1,736.0 L204.6,735.7 L206.1,735.7 L207.6,735.1 L209.1,735.6 L210.6,735.2 L212.1,735.8 L213.6,734.9 L215.1,735.3 L216.6,735.5 L218.1,734.2 L219.6,734.3 L221.1,734.7 L222.4,734.3 L223.8,733.6 L225.1,732.5 L226.4,731.5 L227.9,730.8 L229.4,730.9 L230.9,731.3 L232.4,731.1 L233.9,730.8 L235.4,729.7 L236.9,729.9 L238.5,730.0 L240.1,729.0 L241.6,729.1 L243.2,728.0 L244.8,728.1 L246.4,728.2 L248.0,727.2 L249.5,726.9 L251.1,725.6 L252.7,725.5 L254.3,725.5 L255.8,725.4 L257.4,725.3 L258.9,724.8 L260.5,724.9 L262.0,725.7 L263.5,725.6 L265.0,726.3 L266.5,726.1 L267.9,726.1 L269.4,726.9 L270.8,726.2 L272.3,726.5 L273.7,726.4 L275.2,727.3 L276.6,727.3 L278.1,727.3 L279.6,727.6 L281.0,727.2 L282.5,728.1 L284.0,728.2 L285.4,728.2 L286.9,728.3 L288.4,730.0 L289.8,729.1 L291.3,729.9 L292.8,729.7 L294.2,729.8 L295.7,730.3 L297.1,729.7 L298.6,730.3 L300.0,730.2 L301.5,731.0 L302.9,729.9 L304.4,730.7 L305.9,730.7 L307.3,731.1 L308.8,732.0 L310.2,731.6 L311.7,731.7 L313.1,732.2 L314.6,731.9 L316.0,731.7 L317.5,732.6 L319.0,732.4 L320.4,732.8 L321.9,732.3 L323.4,731.4 L324.8,731.8 L326.3,731.8 L327.8,730.8 L329.2,731.0 L330.7,730.7 L332.2,730.4 L333.6,730.2 L335.1,730.2 L336.5,730.1 L338.0,730.2 L339.4,729.7 L340.9,730.2 L342.3,729.7 L343.8,730.2 L345.3,730.7 L346.7,730.6 L348.2,729.8 L349.7,731.0 L351.1,730.3 L352.6,730.8 L354.1,731.1 L355.5,730.9 L357.0,731.2 L358.6,731.1 L360.1,731.4 L361.7,731.2 L363.2,732.3 L364.8,732.0 L366.3,731.1 L367.8,731.7 L369.3,730.5 L370.9,730.2 L372.4,730.0 L373.9,729.1 L375.4,729.4 L376.9,728.9 L378.3,729.2 L379.8,729.3 L381.2,729.9 L382.7,730.1 L384.1,728.8 L385.6,729.4 L387.0,728.9 L388.5,729.4 L390.0,729.8 L391.4,729.0 L392.9,729.8 L394.3,729.2 L395.8,728.6 L397.2,728.4 L398.7,728.7 L400.1,729.5 L401.6,728.9 L403.1,728.5 L404.5,729.0 L406.0,728.9 L407.5,728.9 L408.9,729.6 L410.4,728.8 L411.9,729.6 L413.3,729.6 L414.8,729.4 L416.3,730.0 L417.7,729.4 L419.2,730.0 L420.6,729.3 L422.1,729.5 L423.5,729.6 L425.0,729.9 L426.4,730.0 L427.9,729.4 L429.3,728.7 L430.7,728.6 L432.2,729.0 L433.6,729.2 L435.0,728.6 L436.5,728.2 L437.9,727.5 L439.4,727.9 L440.8,726.6 L442.3,725.9 L443.7,725.4 L445.2,724.9 L446.6,725.5 L448.1,724.7 L449.6,723.9 L451.0,724.6 L452.5,724.6 L454.0,724.6 L455.4,724.1 L456.9,723.3 L458.4,723.4 L459.8,723.5 L461.3,722.8 L462.8,723.0 L464.2,722.3 L465.7,722.9 L467.1,721.9 L468.6,722.1 L470.0,723.0 L471.5,722.1 L472.9,721.8 L474.4,722.0 L475.9,722.7 L477.4,722.5 L478.9,722.1 L480.4,722.4 L481.9,723.0 L483.4,723.4 L484.9,723.9 L486.5,724.4 L488.1,723.3 L489.6,724.1 L491.2,724.0 L492.8,723.4 L494.3,722.8 L495.8,723.1 L497.3,722.3 L498.8,721.4 L500.3,720.6 L501.8,720.3 L503.3,719.9 L504.8,720.2 L506.3,719.4 L507.8,718.7 L509.3,718.7 L510.8,718.6 L512.3,717.9 L513.8,718.1 L515.3,718.1 L516.7,717.2 L518.2,718.1 L519.7,717.1 L521.1,716.8 L522.6,717.4 L524.1,716.8 L525.5,717.5 L527.0,716.8 L528.5,716.5 L529.9,716.3 L531.4,716.4 L532.8,715.2 L534.3,715.7 L535.7,715.3 L537.2,714.7 L538.6,715.1 L540.1,714.2 L541.6,713.4 L543.0,714.4 L544.5,713.2 L545.9,714.1 L547.4,712.9 L548.8,712.6 L550.3,713.1 L551.7,713.6 L553.2,712.8 L554.7,712.4 L556.1,712.7 L557.6,712.8 L559.1,712.2 L560.5,712.6 L562.0,711.8 L563.5,712.3 L564.9,712.7 L566.4,712.3 L567.9,711.9 L569.4,711.5 L570.9,711.1 L572.4,711.8 L573.9,711.3 L575.4,711.8 L576.9,711.0 L578.4,710.9 L579.9,709.5 L581.4,710.1 L582.9,709.7 L584.4,709.0 L585.9,708.5 L587.4,707.6 L588.9,707.5 L590.4,707.2 L591.9,706.7 L593.4,706.2 L594.9,705.4 L596.4,704.9 L597.9,705.0 L599.4,705.0 L601.0,704.5 L602.5,703.4 L604.0,703.9 L605.6,703.6 L607.1,703.1" fill="none" stroke="#c00fb4" stroke-width="3.0" stroke-linecap="round" stroke-linejoin="round"/>
<path d="M188.4,806.3 L188.4,804.8 L188.4,803.3 L188.4,801.9 L188.4,800.4 L188.4,798.9 L188.4,797.4 L188.4,795.9 L188.4,794.5 L188.4,793.0 L188.4,791.5 L188.4,790.0 L188.4,788.5 L188.4,787.0 L188.4,785.6 L188.4,784.1 L188.4,782.6 L189.8,781.4 L191.1,780.3 L192.5,779.1 L194.1,779.0 L195.8,778.8 L197.4,778.6 L199.0,778.5 L200.6,778.3 L202.1,779.1 L203.7,779.2 L205.2,779.3 L206.8,779.5 L207.5,780.4 L208.1,782.3 L208.8,783.2 L209.9,782.2 L210.9,780.5 L211.9,781.6 L212.9,782.6 L213.9,781.6 L215.0,780.2 L216.0,779.5 L217.0,778.0 L218.0,777.4 L219.0,776.5 L220.4,776.0 L221.7,774.9 L223.1,774.8 L224.5,775.1 L226.0,774.4 L227.4,774.3 L228.8,774.1 L230.2,775.0 L231.7,774.7 L233.1,774.8 L234.5,774.4 L236.0,773.7 L237.4,774.2 L238.8,774.0 L240.3,774.1 L241.7,773.7 L243.2,774.5 L244.6,773.9 L246.0,773.6 L247.5,774.3 L248.9,773.5 L250.4,774.3 L251.8,773.8 L253.2,773.7 L254.7,773.8 L256.1,773.5 L257.5,773.6 L259.0,773.3 L260.4,773.1 L261.8,773.9 L263.2,773.2 L264.7,773.7 L266.1,773.4 L267.5,773.1 L269.0,773.9 L270.4,773.8 L271.8,773.7 L273.2,773.7 L274.7,773.5 L276.1,773.7 L277.5,773.0 L279.0,773.4 L280.4,773.4 L281.9,773.8 L283.4,773.2 L285.0,774.0 L286.5,774.0 L288.0,773.6 L289.6,773.6 L291.1,773.7 L292.6,773.8 L294.2,773.8 L295.7,774.5 L297.2,774.0 L298.8,774.2 L300.3,774.3 L301.9,774.9 L303.4,776.2 L304.9,776.5 L306.6,777.3 L308.3,777.0 L310.0,777.3 L311.9,777.4 L313.8,777.5 L315.4,777.3 L316.9,777.2 L318.4,776.4 L320.0,776.4 L321.5,776.3 L323.0,776.0 L324.6,775.8 L326.1,775.1 L327.6,775.2 L329.0,774.9 L330.4,775.2 L331.8,775.9 L333.3,775.3 L334.7,775.7 L336.1,775.4 L337.5,775.2 L338.9,775.3 L340.3,776.2 L341.8,776.2 L343.2,775.8 L344.6,776.2 L346.0,776.1 L347.4,776.3 L348.9,776.7 L350.3,776.8 L351.8,776.2 L353.2,776.9 L354.6,776.9 L356.1,776.6 L357.5,777.0 L358.9,776.6 L360.4,776.5 L361.8,776.4 L363.2,777.2 L364.7,776.5 L366.1,776.4 L367.6,777.3 L369.0,777.0 L370.4,777.3 L371.9,777.0 L373.3,777.5 L374.8,776.6 L376.2,776.9 L377.6,777.0 L379.1,777.1 L380.5,776.9 L381.9,776.8 L383.4,777.1 L384.8,777.8 L386.2,777.9 L387.7,777.7 L389.1,777.4 L390.6,777.2 L392.0,777.5 L393.4,778.0 L394.9,777.5 L396.3,777.8 L397.7,777.0 L399.2,777.2 L400.6,777.9 L402.0,777.8 L403.4,777.9 L404.9,777.6 L406.3,777.4 L407.7,777.6 L409.2,777.9 L410.6,777.3 L412.0,777.5 L413.5,777.3 L414.9,777.5 L416.3,777.7 L417.8,776.8 L419.2,777.5 L420.6,777.7 L422.1,776.7 L423.5,777.2 L425.0,777.2 L426.4,777.4 L427.8,777.0 L429.3,776.6 L430.7,776.7 L432.1,777.3 L433.6,777.1 L435.0,776.2 L436.5,776.1 L437.9,776.5 L439.3,776.0 L440.8,775.8 L442.2,776.2 L443.6,775.8 L445.1,776.5 L446.5,776.2 L448.0,775.5 L449.4,775.9 L450.8,775.6 L452.3,775.7 L453.7,775.3 L455.1,775.2 L456.6,775.1 L458.0,775.2 L459.5,775.5 L460.9,775.2 L462.3,775.2 L463.8,774.6 L465.2,775.3 L466.6,775.4 L468.1,775.2 L469.5,775.2 L471.0,774.3 L472.4,774.7 L473.8,774.2 L475.3,774.9 L476.7,774.2 L478.1,774.8 L479.6,774.2 L481.0,774.6 L482.5,774.2 L483.9,774.3 L485.3,773.8 L486.8,774.1 L488.2,774.0 L489.6,774.6 L491.1,773.9 L492.5,774.1 L494.0,774.1 L495.4,774.5 L496.8,773.6 L498.3,774.1 L499.7,774.0 L501.1,774.2 L502.6,774.4 L504.0,773.7 L505.5,774.1 L506.9,773.8 L508.3,773.8 L509.8,773.8 L511.2,773.2 L512.6,773.9 L514.1,774.0 L515.5,773.3 L517.0,773.2 L518.4,773.9 L519.8,772.9 L521.3,772.8 L522.7,772.7 L524.1,773.5 L525.6,773.4 L527.0,773.0 L528.5,773.1 L529.9,772.9 L531.3,772.3 L532.8,773.0 L534.2,772.7 L535.6,772.8 L537.1,772.6 L538.5,772.6 L540.0,772.4 L541.4,772.2 L542.8,772.5 L544.3,772.3 L545.7,772.8 L547.1,772.9 L548.6,772.7 L550.0,772.4 L551.5,772.1 L552.9,772.4 L554.3,772.2 L555.8,772.3 L557.2,772.5 L558.6,772.8 L560.1,771.8 L561.5,772.2 L563.0,772.2 L564.4,772.4 L565.8,772.6 L567.3,772.5 L568.7,772.3 L570.1,772.4 L571.6,772.3 L573.0,772.4 L574.5,772.2 L575.9,772.0 L577.3,772.1 L578.7,771.6 L580.1,772.2 L581.6,771.6 L583.0,771.7 L584.4,771.9 L585.8,772.0 L587.2,771.9 L588.6,770.8 L590.1,771.0 L591.5,770.9 L592.9,771.0 L594.3,771.0 L595.7,770.6 L597.1,771.0 L598.5,770.4 L599.9,770.6 L601.4,771.3 L602.8,771.0 L604.2,770.6 L605.6,770.2 L607.0,770.6" fill="none" stroke="#f5b9e8" stroke-width="1.3" stroke-linecap="round" stroke-linejoin="miter"/>
<path d="M197.6,806.3 L197.6,804.9 L197.6,803.5 L197.6,802.0 L197.6,800.6 L197.6,799.2 L197.6,797.8 L197.6,796.4 L197.6,794.9 L197.6,793.5 L197.6,792.1 L197.6,790.7 L197.6,789.3 L197.6,787.8 L197.6,786.4 L197.6,785.0 L197.6,783.6 L197.6,782.2 L197.6,780.7 L197.6,779.3 L197.6,777.9 L199.6,777.5 L201.0,777.7 L202.4,776.6 L203.8,776.2 L205.2,777.0 L206.7,775.8 L208.1,775.5 L209.5,775.8 L210.9,775.4 L212.4,775.1 L213.9,775.6 L215.5,774.7 L217.0,775.4 L218.5,774.6 L220.1,774.8 L221.6,775.0 L223.1,774.4 L224.5,774.5 L226.0,774.7 L227.4,774.4 L228.8,773.7 L230.2,774.5 L231.7,774.1 L233.1,773.8 L234.5,773.6 L236.0,774.2 L237.4,773.8 L238.8,773.9 L240.3,774.2 L241.7,774.0 L243.2,774.1 L244.6,773.7 L246.0,773.8 L247.5,773.6 L248.9,773.2 L250.4,773.9 L251.8,773.4 L253.2,773.2 L254.7,773.6 L256.1,773.8 L257.5,773.4 L259.0,772.8 L260.4,773.5 L261.8,773.3 L263.2,772.7 L264.7,772.5 L266.1,773.0 L267.5,773.0 L269.0,772.5 L270.4,773.5 L271.8,773.0 L273.2,773.0 L274.7,772.9 L276.1,773.2 L277.5,773.5 L279.0,772.8 L280.4,773.0 L281.9,772.9 L283.4,773.2 L285.0,772.9 L286.5,773.3 L288.0,773.3 L289.6,773.2 L291.1,773.5 L292.6,773.4 L294.2,773.5 L295.7,773.1 L297.2,774.2 L298.8,773.8 L300.3,774.2 L301.9,774.9 L303.4,775.4 L304.9,776.1 L306.6,776.8 L308.3,777.1 L310.0,776.9 L311.9,777.0 L313.8,777.1 L315.4,776.7 L316.9,776.1 L318.4,776.7 L320.0,776.0 L321.5,775.4 L323.0,775.6 L324.6,775.1 L326.1,774.9 L327.6,774.8 L329.0,774.7 L330.4,774.6 L331.8,774.5 L333.3,775.1 L334.7,775.5 L336.1,775.4 L337.5,775.0 L338.9,775.6 L340.3,774.9 L341.8,775.4 L343.2,775.9 L344.6,776.1 L346.0,775.7 L347.4,775.7 L348.9,776.2 L350.3,775.9 L351.8,776.0 L353.2,776.1 L354.6,776.6 L356.1,776.4 L357.5,776.1 L358.9,776.5 L360.4,776.4 L361.8,776.2 L363.2,776.7 L364.7,776.8 L366.1,776.6 L367.6,777.0 L369.0,776.6 L370.4,776.1 L371.9,776.7 L373.3,776.8 L374.8,776.5 L376.2,776.4 L377.6,777.0 L379.1,776.7 L380.5,776.6 L381.9,776.4 L383.4,777.4 L384.8,776.8 L386.2,776.6 L387.7,776.7 L389.1,776.8 L390.6,777.5 L392.0,777.1 L393.4,776.7 L394.9,776.9 L396.3,776.7 L397.7,777.1 L399.2,776.8 L400.6,776.9 L402.0,777.4 L403.4,777.6 L404.9,777.5 L406.3,776.6 L407.7,777.0 L409.2,777.5 L410.6,776.6 L412.0,776.8 L413.5,777.1 L414.9,777.1 L416.3,776.9 L417.8,777.1 L419.2,777.0 L420.6,776.6 L422.1,776.2 L423.5,776.1 L425.0,776.0 L426.4,775.7 L427.8,776.2 L429.3,775.5 L430.7,776.2 L432.1,775.8 L433.6,775.1 L435.0,775.4 L436.5,775.4 L437.9,775.2 L439.3,774.6 L440.8,775.0 L442.2,774.4 L443.6,775.2 L445.1,774.2 L446.5,774.9 L448.0,775.2 L449.4,774.9 L450.8,774.2 L452.3,774.4 L453.7,773.9 L455.1,774.1 L456.6,774.5 L458.0,774.4 L459.5,773.4 L460.9,773.9 L462.3,773.7 L463.8,773.9 L465.2,773.4 L466.6,774.0 L468.1,774.1 L469.5,773.6 L471.0,773.4 L472.4,773.8 L473.8,773.4 L475.3,773.0 L476.7,773.0 L478.1,772.9 L479.6,773.5 L481.0,773.1 L482.5,773.3 L483.9,773.0 L485.3,773.4 L486.8,773.6 L488.2,772.7 L489.6,773.0 L491.1,773.5 L492.5,773.4 L494.0,773.1 L495.4,773.4 L496.8,772.9 L498.3,772.9 L499.7,772.8 L501.1,773.2 L502.6,773.0 L504.0,773.4 L505.5,773.9 L506.9,773.4 L508.3,773.0 L509.8,773.4 L511.2,773.6 L512.6,773.3 L514.1,773.1 L515.5,773.4 L517.0,772.5 L518.4,773.4 L519.8,773.1 L521.3,773.2 L522.7,773.1 L524.1,772.3 L525.6,772.2 L527.0,772.3 L528.5,772.6 L529.9,772.5 L531.3,773.0 L532.8,772.9 L534.2,772.3 L535.6,772.5 L537.1,772.6 L538.5,772.1 L540.0,772.8 L541.4,772.7 L542.8,772.5 L544.3,772.6 L545.7,772.5 L547.1,772.3 L548.6,771.9 L550.0,771.8 L551.5,771.7 L552.9,772.0 L554.3,771.5 L555.8,772.4 L557.2,771.7 L558.6,771.4 L560.1,771.7 L561.5,771.4 L563.0,771.8 L564.4,771.6 L565.8,771.4 L567.3,771.7 L568.7,771.6 L570.1,771.5 L571.6,772.0 L573.0,771.4 L574.5,771.7 L575.9,771.6 L577.3,771.9 L578.7,772.0 L580.1,771.2 L581.6,770.8 L583.0,771.7 L584.4,771.2 L585.8,770.8 L587.2,770.6 L588.6,770.6 L590.1,770.6 L591.5,770.4 L592.9,770.2 L594.3,770.6 L595.7,771.1 L597.1,770.9 L598.5,770.0 L599.9,770.4 L601.4,770.7 L602.8,770.3 L604.2,769.8 L605.6,770.1 L607.0,770.2" fill="none" stroke="#7030a0" stroke-width="1.3" stroke-linecap="round" stroke-linejoin="miter"/>
<path d="M193.1,806.3 L193.1,804.9 L193.1,803.4 L193.1,802.0 L193.1,800.6 L193.1,799.1 L193.1,797.7 L193.1,796.3 L193.1,794.8 L193.1,793.4 L193.1,792.0 L193.1,790.6 L193.1,789.1 L193.1,787.7 L193.1,786.3 L193.1,784.8 L193.1,783.4 L193.1,782.0 L193.1,780.5 L193.1,779.1 L194.7,778.7 L196.3,778.3 L198.0,777.9 L199.6,777.5 L201.0,777.7 L202.4,777.5 L203.8,777.1 L205.2,776.0 L206.7,776.3 L208.1,775.8 L209.5,775.7 L210.9,775.4 L212.4,774.9 L213.9,774.8 L215.5,775.0 L217.0,774.6 L218.5,774.7 L220.1,774.1 L221.6,774.1 L223.1,774.4 L224.5,774.6 L226.0,774.2 L227.4,774.2 L228.8,774.4 L230.2,773.9 L231.7,773.6 L233.1,774.3 L234.5,774.0 L236.0,774.0 L237.4,773.8 L238.8,773.9 L240.3,774.2 L241.7,773.5 L243.2,773.9 L244.6,773.5 L246.0,773.6 L247.5,773.7 L248.9,773.3 L250.4,773.0 L251.8,773.4 L253.2,773.3 L254.7,773.6 L256.1,773.4 L257.5,773.2 L259.0,773.4 L260.4,772.8 L261.8,772.8 L263.2,772.9 L264.7,773.4 L266.1,773.0 L267.5,772.7 L269.0,772.6 L270.4,772.6 L271.8,772.5 L273.2,772.8 L274.7,773.1 L276.1,773.4 L277.5,772.8 L279.0,772.9 L280.4,773.0 L281.9,772.8 L283.4,772.9 L285.0,773.5 L286.5,773.3 L288.0,773.0 L289.6,772.9 L291.1,773.7 L292.6,773.4 L294.2,773.7 L295.7,774.0 L297.2,773.4 L298.8,773.8 L300.3,774.4 L301.9,775.4 L303.4,775.6 L304.9,776.1 L306.6,776.9 L308.3,776.3 L310.0,776.9 L311.9,777.5 L313.8,777.1 L315.4,776.3 L316.9,776.5 L318.4,775.8 L320.0,776.0 L321.5,776.1 L323.0,775.7 L324.6,775.8 L326.1,775.4 L327.6,774.8 L329.0,775.4 L330.4,775.0 L331.8,775.5 L333.3,775.4 L334.7,775.0 L336.1,775.7 L337.5,775.1 L338.9,775.0 L340.3,775.0 L341.8,775.5 L343.2,775.2 L344.6,776.1 L346.0,775.7 L347.4,776.3 L348.9,775.5 L350.3,775.4 L351.8,776.0 L353.2,775.6 L354.6,776.1 L356.1,776.4 L357.5,775.9 L358.9,776.1 L360.4,776.7 L361.8,776.3 L363.2,776.2 L364.7,776.9 L366.1,776.8 L367.6,777.0 L369.0,776.6 L370.4,776.8 L371.9,776.6 L373.3,776.9 L374.8,777.1 L376.2,776.9 L377.6,776.5 L379.1,776.6 L380.5,776.8 L381.9,777.2 L383.4,777.0 L384.8,777.0 L386.2,777.3 L387.7,776.6 L389.1,777.2 L390.6,776.9 L392.0,777.1 L393.4,777.2 L394.9,777.5 L396.3,776.8 L397.7,777.6 L399.2,776.6 L400.6,777.2 L402.0,777.1 L403.4,776.8 L404.9,777.2 L406.3,777.1 L407.7,777.0 L409.2,777.3 L410.6,776.6 L412.0,777.0 L413.5,777.4 L414.9,777.1 L416.3,776.6 L417.8,777.4 L419.2,776.6 L420.6,777.0 L422.1,776.4 L423.5,776.7 L425.0,776.6 L426.4,776.1 L427.8,776.8 L429.3,776.5 L430.7,776.6 L432.1,776.4 L433.6,776.3 L435.0,776.3 L436.5,775.9 L437.9,776.1 L439.3,776.5 L440.8,775.5 L442.2,776.3 L443.6,776.2 L445.1,775.7 L446.5,775.9 L448.0,775.7 L449.4,775.6 L450.8,775.1 L452.3,775.1 L453.7,775.0 L455.1,774.9 L456.6,775.5 L458.0,774.8 L459.5,774.8 L460.9,774.8 L462.3,774.7 L463.8,775.0 L465.2,774.6 L466.6,774.6 L468.1,774.2 L469.5,774.2 L471.0,774.0 L472.4,774.0 L473.8,774.0 L475.3,774.6 L476.7,774.2 L478.1,773.7 L479.6,774.0 L481.0,773.6 L482.5,774.0 L483.9,773.9 L485.3,773.8 L486.8,774.2 L488.2,773.5 L489.6,774.2 L491.1,773.5 L492.5,774.2 L494.0,773.8 L495.4,773.1 L496.8,774.0 L498.3,773.3 L499.7,773.4 L501.1,773.1 L502.6,773.9 L504.0,773.0 L505.5,773.7 L506.9,773.4 L508.3,773.2 L509.8,773.5 L511.2,773.0 L512.6,772.7 L514.1,773.6 L515.5,773.2 L517.0,772.6 L518.4,773.5 L519.8,773.3 L521.3,772.5 L522.7,772.3 L524.1,772.8 L525.6,772.3 L527.0,772.9 L528.5,772.5 L529.9,772.5 L531.3,772.7 L532.8,772.5 L534.2,772.7 L535.6,772.7 L537.1,772.5 L538.5,772.4 L540.0,772.1 L541.4,771.8 L542.8,771.8 L544.3,772.6 L545.7,771.8 L547.1,772.0 L548.6,771.9 L550.0,772.2 L551.5,772.1 L552.9,772.0 L554.3,772.4 L555.8,771.9 L557.2,771.8 L558.6,772.1 L560.1,772.1 L561.5,772.3 L563.0,771.6 L564.4,772.2 L565.8,772.3 L567.3,772.3 L568.7,771.3 L570.1,771.6 L571.6,772.0 L573.0,772.0 L574.5,771.1 L575.9,771.6 L577.3,771.4 L578.7,771.7 L580.1,771.7 L581.6,771.3 L583.0,770.9 L584.4,771.0 L585.8,770.6 L587.2,770.8 L588.6,770.8 L590.1,771.2 L591.5,770.9 L592.9,770.6 L594.3,770.6 L595.7,770.3 L597.1,770.3 L598.5,770.7 L599.9,770.4 L601.4,770.0 L602.8,770.7 L604.2,770.4 L605.6,770.8 L607.0,770.2" fill="none" stroke="#c00fb4" stroke-width="1.3" stroke-linecap="round" stroke-linejoin="miter"/>
<line x1="97.60" y1="806.40" x2="608.00" y2="806.40" stroke="#4a4a4a" stroke-width="2.4" stroke-linecap="butt"/>
<line x1="98.70" y1="489.50" x2="98.70" y2="805.20" stroke="#000" stroke-width="2.2" stroke-linecap="butt"/>
<line x1="606.90" y1="489.50" x2="606.90" y2="805.20" stroke="#000" stroke-width="2.2" stroke-linecap="butt"/>
<line x1="97.60" y1="490.60" x2="608.00" y2="490.60" stroke="#000" stroke-width="2.2" stroke-linecap="butt"/>
<text id="t48" transform="translate(1.80,502.80) translate(0.00,0) scale(0.9632,1)" font-size="26.5" font-weight="normal" fill="#000">(b)</text>
<text id="t49" transform="translate(79.70,496.00) translate(-37.20,0) scale(0.9962,1)" font-size="16.8" font-weight="bold" fill="#000">1200</text>
<text id="t50" transform="translate(79.70,548.63) translate(-37.20,0) scale(0.9962,1)" font-size="16.8" font-weight="bold" fill="#000">1000</text>
<text id="t51" transform="translate(79.70,601.27) translate(-27.90,0) scale(0.9964,1)" font-size="16.8" font-weight="bold" fill="#000">800</text>
<text id="t52" transform="translate(79.70,653.90) translate(-27.90,0) scale(0.9964,1)" font-size="16.8" font-weight="bold" fill="#000">600</text>
<text id="t53" transform="translate(79.70,706.53) translate(-27.90,0) scale(0.9964,1)" font-size="16.8" font-weight="bold" fill="#000">400</text>
<text id="t54" transform="translate(79.70,759.17) translate(-27.90,0) scale(0.9964,1)" font-size="16.8" font-weight="bold" fill="#000">200</text>
<text id="t55" transform="translate(79.70,811.80) translate(-9.30,0) scale(0.9953,1)" font-size="16.8" font-weight="bold" fill="#000">0</text>
<text id="t56" transform="translate(625.50,496.00) translate(0.00,0) scale(1.0179,1)" font-size="16.8" font-weight="bold" fill="#000">800</text>
<text id="t57" transform="translate(625.50,535.48) translate(0.00,0) scale(1.0179,1)" font-size="16.8" font-weight="bold" fill="#000">700</text>
<text id="t58" transform="translate(625.50,574.95) translate(0.00,0) scale(1.0179,1)" font-size="16.8" font-weight="bold" fill="#000">600</text>
<text id="t59" transform="translate(625.50,614.42) translate(0.00,0) scale(1.0179,1)" font-size="16.8" font-weight="bold" fill="#000">500</text>
<text id="t60" transform="translate(625.50,653.90) translate(0.00,0) scale(1.0179,1)" font-size="16.8" font-weight="bold" fill="#000">400</text>
<text id="t61" transform="translate(625.50,693.38) translate(0.00,0) scale(1.0179,1)" font-size="16.8" font-weight="bold" fill="#000">300</text>
<text id="t62" transform="translate(625.50,732.85) translate(0.00,0) scale(1.0179,1)" font-size="16.8" font-weight="bold" fill="#000">200</text>
<text id="t63" transform="translate(625.50,772.32) translate(0.00,0) scale(1.0179,1)" font-size="16.8" font-weight="bold" fill="#000">100</text>
<text id="t64" transform="translate(625.50,811.80) translate(0.00,0) scale(1.0595,1)" font-size="16.8" font-weight="bold" fill="#000">0</text>
<text id="t65" transform="translate(98.70,837.10) translate(-4.65,0) scale(0.9953,1)" font-size="16.8" font-weight="bold" fill="#000">0</text>
<text id="t66" transform="translate(141.05,837.10) translate(-9.30,0) scale(0.9962,1)" font-size="16.8" font-weight="bold" fill="#000">12</text>
<text id="t67" transform="translate(183.40,837.10) translate(-9.30,0) scale(0.9962,1)" font-size="16.8" font-weight="bold" fill="#000">24</text>
<text id="t68" transform="translate(225.75,837.10) translate(-9.30,0) scale(0.9962,1)" font-size="16.8" font-weight="bold" fill="#000">36</text>
<text id="t69" transform="translate(268.10,837.10) translate(-9.30,0) scale(0.9962,1)" font-size="16.8" font-weight="bold" fill="#000">48</text>
<text id="t70" transform="translate(310.45,837.10) translate(-9.30,0) scale(0.9962,1)" font-size="16.8" font-weight="bold" fill="#000">60</text>
<text id="t71" transform="translate(352.80,837.10) translate(-9.30,0) scale(0.9962,1)" font-size="16.8" font-weight="bold" fill="#000">72</text>
<text id="t72" transform="translate(395.15,837.10) translate(-9.30,0) scale(0.9962,1)" font-size="16.8" font-weight="bold" fill="#000">84</text>
<text id="t73" transform="translate(437.50,837.10) translate(-9.30,0) scale(0.9962,1)" font-size="16.8" font-weight="bold" fill="#000">96</text>
<text id="t74" transform="translate(479.85,837.10) translate(-13.95,0) scale(0.9964,1)" font-size="16.8" font-weight="bold" fill="#000">108</text>
<text id="t75" transform="translate(522.20,837.10) translate(-13.95,0) scale(0.9964,1)" font-size="16.8" font-weight="bold" fill="#000">120</text>
<text id="t76" transform="translate(564.55,837.10) translate(-13.95,0) scale(0.9964,1)" font-size="16.8" font-weight="bold" fill="#000">132</text>
<text id="t77" transform="translate(606.90,837.10) translate(-13.95,0) scale(0.9964,1)" font-size="16.8" font-weight="bold" fill="#000">144</text>
<text id="t78" transform="translate(278.10,863.40) translate(0.00,0) scale(1.0828,1)" font-size="16.8" font-weight="bold" fill="#000">Model</text>
<text id="t79" transform="translate(334.70,863.40) translate(0.00,0) scale(1.0749,1)" font-size="16.8" font-weight="bold" fill="#000">time</text>
<text id="t80" transform="translate(376.40,863.40) translate(0.00,0) scale(1.0419,1)" font-size="16.8" font-weight="bold" fill="#000">(hour)</text>
<text id="t81" transform="translate(33.10,768.50) rotate(-90) translate(0.00,0) scale(0.9143,1)" font-size="16.8" font-weight="bold" fill="#000">Sea</text>
<text id="t82" transform="translate(33.10,736.80) rotate(-90) translate(0.00,0) scale(0.9827,1)" font-size="16.8" font-weight="bold" fill="#000">Surface</text>
<text id="t83" transform="translate(33.10,670.10) rotate(-90) translate(0.00,0) scale(0.9897,1)" font-size="16.8" font-weight="bold" fill="#000">Heat</text>
<text id="t84" transform="translate(33.10,630.50) rotate(-90) translate(0.00,0) scale(1.0928,1)" font-size="16.8" font-weight="bold" fill="#000">Flux</text>
<text id="t85" transform="translate(33.10,590.90) rotate(-90) translate(0.00,0) scale(1.2128,1)" font-size="16.8" font-weight="bold" fill="#000">(W</text>
<text id="t86" transform="translate(33.10,563.10) rotate(-90) translate(0.00,0) scale(1.0927,1)" font-size="16.8" font-weight="bold" fill="#000">m<tspan font-size="11.5" dy="-6">-2</tspan><tspan dy="6">)</tspan></text>
<text id="t87" transform="translate(675.20,758.50) rotate(-90) translate(0.00,0) scale(0.9436,1)" font-size="16.8" font-weight="bold" fill="#000">Radius</text>
<text id="t88" transform="translate(675.20,700.90) rotate(-90) translate(0.00,0) scale(0.9278,1)" font-size="16.8" font-weight="bold" fill="#000">of</text>
<text id="t89" transform="translate(675.20,681.40) rotate(-90) translate(0.00,0) scale(0.9514,1)" font-size="16.8" font-weight="bold" fill="#000">R30</text>
<text id="t90" transform="translate(675.20,647.70) rotate(-90) translate(0.00,0) scale(0.9550,1)" font-size="16.8" font-weight="bold" fill="#000">and</text>
<text id="t91" transform="translate(675.20,614.40) rotate(-90) translate(0.00,0) scale(0.9384,1)" font-size="16.8" font-weight="bold" fill="#000">R64</text>
<text id="t92" transform="translate(675.20,581.00) rotate(-90) translate(0.00,0) scale(1.1852,1)" font-size="16.8" font-weight="bold" fill="#000">(km)</text>
<line x1="130.30" y1="891.50" x2="152.00" y2="891.50" stroke="#f5b9e8" stroke-width="1.5" stroke-linecap="butt" stroke-dasharray="4.7 4.0"/>
<line x1="131.30" y1="915.80" x2="151.10" y2="915.80" stroke="#f5b9e8" stroke-width="3.0" stroke-linecap="round"/>
<line x1="130.30" y1="940.10" x2="151.70" y2="940.10" stroke="#f5b9e8" stroke-width="1.3" stroke-linecap="butt"/>
<text id="t93" transform="translate(153.60,896.40) translate(0.00,0) scale(0.8892,1)" font-size="14.4" font-weight="bold" fill="#000">S-CO<tspan font-size="10" dy="2.2">2</tspan><tspan dy="-0.5" font-weight="normal" font-size="17">×</tspan><tspan dy="-1.7">2-SSHF</tspan></text>
<text id="t94" transform="translate(153.60,920.50) translate(0.00,0) scale(0.9252,1)" font-size="14.4" font-weight="bold" fill="#000">S-CO<tspan font-size="10" dy="2.2">2</tspan><tspan dy="-0.5" font-weight="normal" font-size="17">×</tspan><tspan dy="-1.7">2-R30</tspan></text>
<text id="t95" transform="translate(153.60,944.60) translate(0.00,0) scale(0.9252,1)" font-size="14.4" font-weight="bold" fill="#000">S-CO<tspan font-size="10" dy="2.2">2</tspan><tspan dy="-0.5" font-weight="normal" font-size="17">×</tspan><tspan dy="-1.7">2-R64</tspan></text>
<line x1="284.30" y1="891.50" x2="306.60" y2="891.50" stroke="#7030a0" stroke-width="1.5" stroke-linecap="butt" stroke-dasharray="4.7 4.0"/>
<line x1="285.30" y1="915.80" x2="305.70" y2="915.80" stroke="#7030a0" stroke-width="3.0" stroke-linecap="round"/>
<line x1="284.30" y1="940.10" x2="306.30" y2="940.10" stroke="#7030a0" stroke-width="1.3" stroke-linecap="butt"/>
<text id="t96" transform="translate(308.30,896.40) translate(0.00,0) scale(0.8629,1)" font-size="14.4" font-weight="bold" fill="#000">CTL-SSHF</text>
<text id="t97" transform="translate(308.30,920.50) translate(0.00,0) scale(0.9058,1)" font-size="14.4" font-weight="bold" fill="#000">CTL-R30</text>
<text id="t98" transform="translate(308.30,944.60) translate(0.00,0) scale(0.9058,1)" font-size="14.4" font-weight="bold" fill="#000">CTL-R64</text>
<line x1="438.80" y1="891.50" x2="459.30" y2="891.50" stroke="#c00fb4" stroke-width="1.5" stroke-linecap="butt" stroke-dasharray="4.7 4.0"/>
<line x1="439.80" y1="915.80" x2="458.40" y2="915.80" stroke="#c00fb4" stroke-width="3.0" stroke-linecap="round"/>
<line x1="438.80" y1="940.10" x2="459.00" y2="940.10" stroke="#c00fb4" stroke-width="1.3" stroke-linecap="butt"/>
<text id="t99" transform="translate(461.90,896.40) translate(0.00,0) scale(0.9039,1)" font-size="14.4" font-weight="bold" fill="#000">S-CO<tspan font-size="10" dy="2.2">2</tspan><tspan dy="-0.5" font-weight="normal" font-size="17">×</tspan><tspan dy="-1.7">4-SSHF</tspan></text>
<text id="t100" transform="translate(461.90,920.50) translate(0.00,0) scale(0.9362,1)" font-size="14.4" font-weight="bold" fill="#000">S-CO<tspan font-size="10" dy="2.2">2</tspan><tspan dy="-0.5" font-weight="normal" font-size="17">×</tspan><tspan dy="-1.7">4-R30</tspan></text>
<text id="t101" transform="translate(461.90,944.60) translate(0.00,0) scale(0.9362,1)" font-size="14.4" font-weight="bold" fill="#000">S-CO<tspan font-size="10" dy="2.2">2</tspan><tspan dy="-0.5" font-weight="normal" font-size="17">×</tspan><tspan dy="-1.7">4-R64</tspan></text>
</svg>
</body></html>
